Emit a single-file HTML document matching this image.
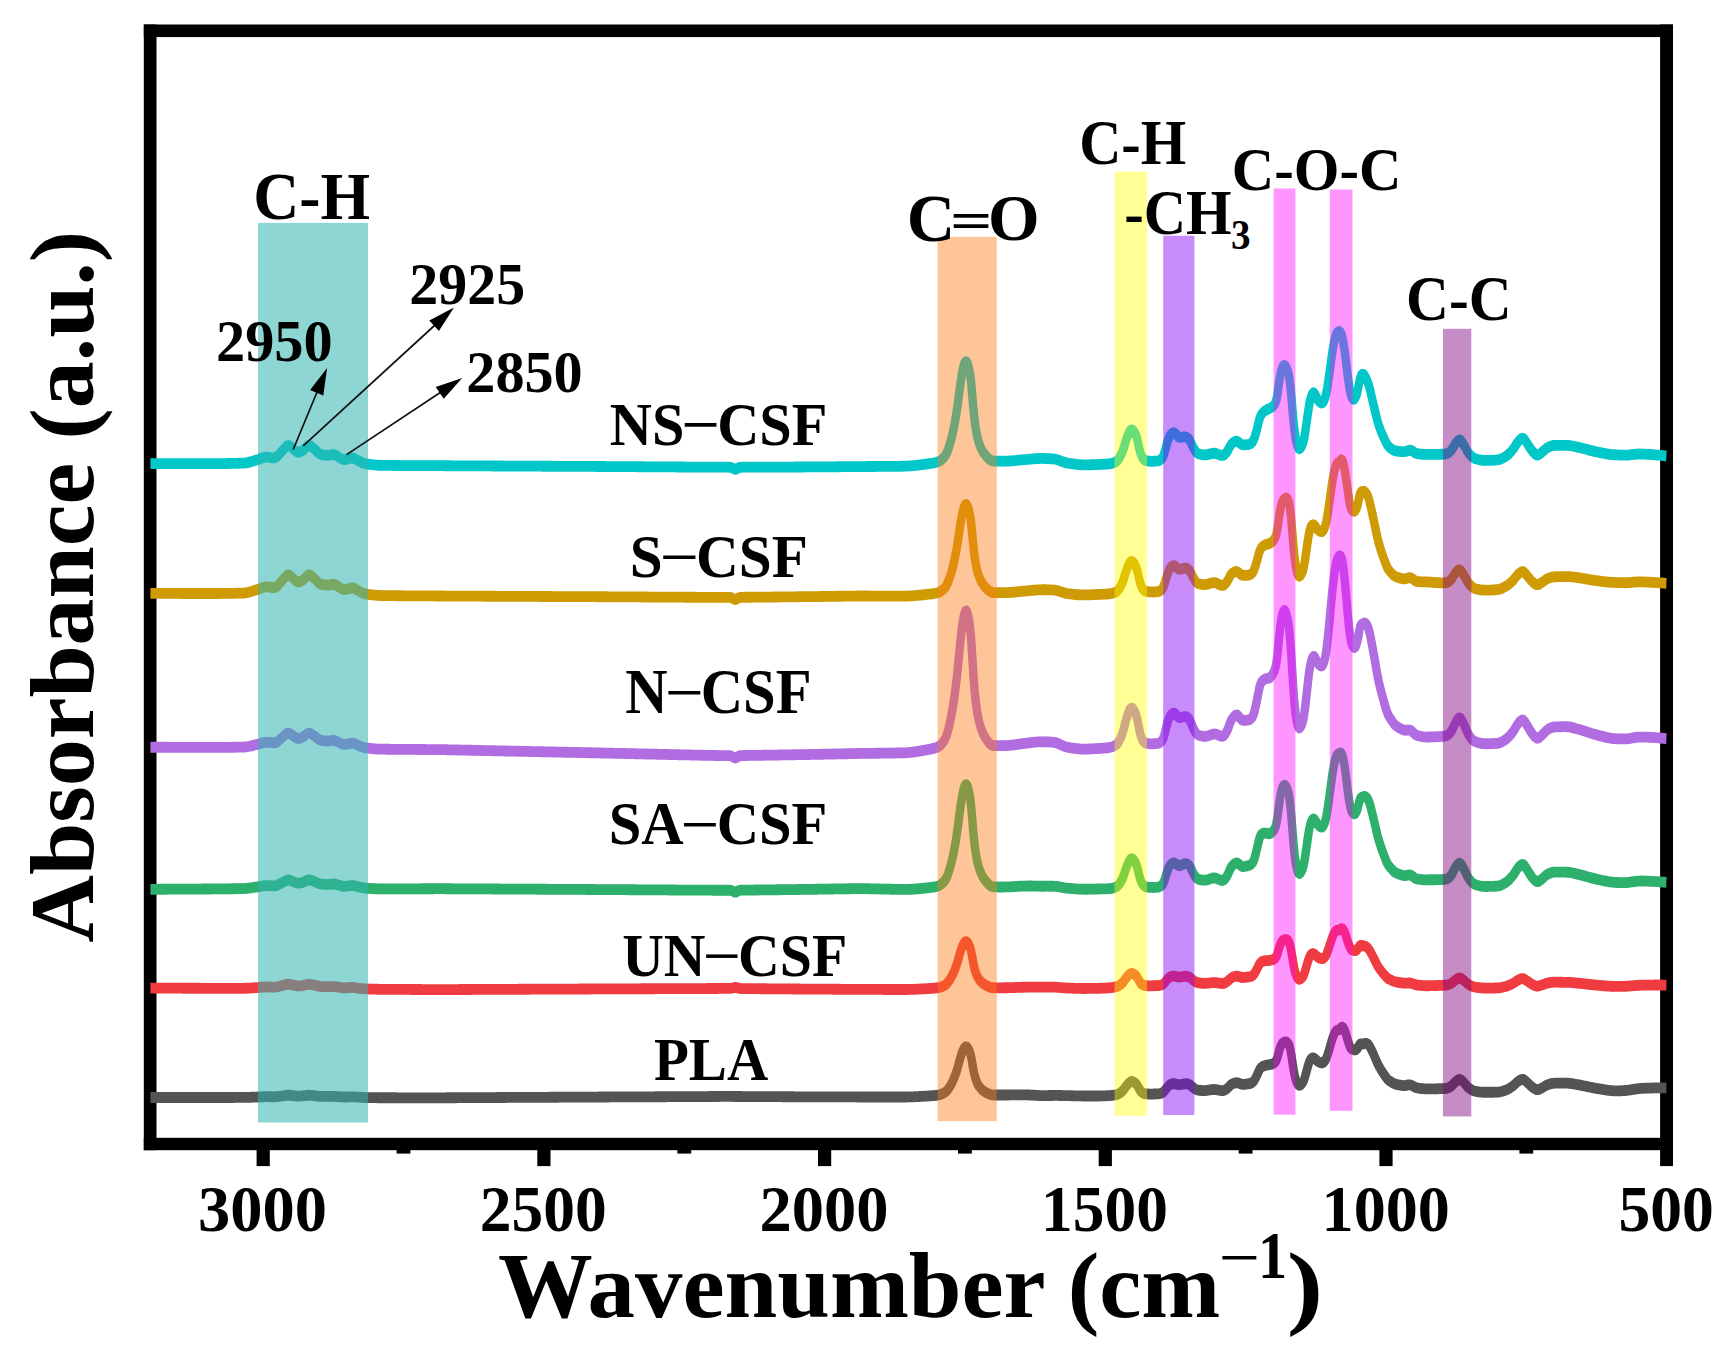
<!DOCTYPE html>
<html><head><meta charset="utf-8"><title>FTIR spectra</title>
<style>
html,body{margin:0;padding:0;background:#fff;}
svg{display:block;}
text{font-family:"Liberation Serif","Times New Roman",serif;font-weight:bold;fill:#000;}
</style></head><body>
<svg width="1735" height="1353" viewBox="0 0 1735 1353">
<rect width="1735" height="1353" fill="#fff"/>
<g id="frame"><rect x="143.8" y="24.5" width="1529.2" height="12.6" fill="#000"/><rect x="143.8" y="1137.8" width="1529.2" height="12.4" fill="#000"/><rect x="143.8" y="24.5" width="12.7" height="1125.7" fill="#000"/><rect x="1660.1" y="24.5" width="12.9" height="1141.6" fill="#000"/><rect x="256.6" y="1144" width="13.2" height="22.1" fill="#000"/><rect x="537.3" y="1144" width="13.2" height="22.1" fill="#000"/><rect x="818.0" y="1144" width="13.2" height="22.1" fill="#000"/><rect x="1098.7" y="1144" width="13.2" height="22.1" fill="#000"/><rect x="1379.4" y="1144" width="13.2" height="22.1" fill="#000"/><rect x="396.6" y="1144" width="13.8" height="9.6" fill="#000"/><rect x="677.4" y="1144" width="13.8" height="9.6" fill="#000"/><rect x="958.0" y="1144" width="13.8" height="9.6" fill="#000"/><rect x="1238.7" y="1144" width="13.8" height="9.6" fill="#000"/><rect x="1519.4" y="1144" width="13.8" height="9.6" fill="#000"/></g>
<g id="curves" transform="scale(1,1.28)"><path d="M150.4 362.21L151.4 362.21L152.4 362.21L153.4 362.21L154.4 362.21L155.4 362.21L156.4 362.21L157.4 362.21L158.4 362.21L159.4 362.21L160.4 362.21L161.4 362.21L162.4 362.21L163.4 362.21L164.4 362.21L165.4 362.21L166.4 362.21L167.4 362.21L168.4 362.21L169.4 362.21L170.4 362.21L171.4 362.21L172.4 362.21L173.4 362.21L174.4 362.21L175.4 362.21L176.4 362.21L177.4 362.21L178.4 362.21L179.4 362.21L180.4 362.21L181.4 362.21L182.4 362.21L183.4 362.21L184.4 362.21L185.4 362.21L186.4 362.21L187.4 362.21L188.4 362.21L189.4 362.21L190.4 362.21L191.4 362.21L192.4 362.21L193.4 362.21L194.4 362.21L195.4 362.21L196.4 362.21L197.4 362.21L198.4 362.21L199.4 362.21L200.4 362.21L201.4 362.21L202.4 362.21L203.4 362.21L204.4 362.21L205.4 362.21L206.4 362.21L207.4 362.21L208.4 362.21L209.4 362.21L210.4 362.21L211.4 362.21L212.4 362.21L213.4 362.21L214.4 362.20L215.4 362.20L216.4 362.20L217.4 362.19L218.4 362.19L219.4 362.18L220.4 362.17L221.4 362.17L222.4 362.16L223.4 362.15L224.4 362.14L225.4 362.13L226.4 362.12L227.4 362.11L228.4 362.10L229.4 362.08L230.4 362.07L231.4 362.05L232.4 362.04L233.4 362.02L234.4 362.01L235.4 361.99L236.4 361.97L237.4 361.95L238.4 361.93L239.4 361.91L240.4 361.89L241.4 361.86L242.4 361.84L243.4 361.81L244.4 361.77L245.4 361.69L246.4 361.58L247.4 361.43L248.4 361.26L249.4 361.06L250.4 360.84L251.4 360.60L252.4 360.36L253.4 360.11L254.4 359.86L255.4 359.61L256.4 359.37L257.4 359.14L258.4 358.89L259.4 358.62L260.4 358.32L261.4 358.02L262.4 357.73L263.4 357.47L264.4 357.27L265.4 357.15L266.4 357.10L267.4 357.13L268.4 357.20L269.4 357.30L270.4 357.42L271.4 357.53L272.4 357.63L273.4 357.71L274.4 357.70L275.4 357.51L276.4 357.09L277.4 356.43L278.4 355.62L279.4 354.74L280.4 353.88L281.4 353.05L282.4 352.20L283.4 351.29L284.4 350.34L285.4 349.44L286.4 348.69L287.4 348.19L288.4 348.03L289.4 348.24L290.4 348.75L291.4 349.45L292.4 350.19L293.4 350.89L294.4 351.56L295.4 352.20L296.4 352.79L297.4 353.19L298.4 353.34L299.4 353.24L300.4 352.97L301.4 352.58L302.4 352.14L303.4 351.62L304.4 350.94L305.4 350.11L306.4 349.23L307.4 348.50L308.4 348.09L309.4 348.06L310.4 348.36L311.4 348.87L312.4 349.50L313.4 350.18L314.4 350.85L315.4 351.55L316.4 352.31L317.4 353.12L318.4 353.88L319.4 354.50L320.4 354.91L321.4 355.15L322.4 355.30L323.4 355.42L324.4 355.52L325.4 355.60L326.4 355.67L327.4 355.70L328.4 355.70L329.4 355.64L330.4 355.50L331.4 355.33L332.4 355.18L333.4 355.11L334.4 355.21L335.4 355.48L336.4 355.91L337.4 356.39L338.4 356.87L339.4 357.34L340.4 357.82L341.4 358.30L342.4 358.71L343.4 358.97L344.4 359.05L345.4 358.99L346.4 358.84L347.4 358.64L348.4 358.42L349.4 358.20L350.4 358.00L351.4 357.86L352.4 357.81L353.4 357.91L354.4 358.18L355.4 358.61L356.4 359.10L357.4 359.56L358.4 359.99L359.4 360.40L360.4 360.81L361.4 361.21L362.4 361.58L363.4 361.89L364.4 362.12L365.4 362.29L366.4 362.43L367.4 362.55L368.4 362.67L369.4 362.79L370.4 362.89L371.4 362.99L372.4 363.08L373.4 363.16L374.4 363.24L375.4 363.31L376.4 363.37L377.4 363.42L378.4 363.47L379.4 363.50L380.4 363.53L381.4 363.55L382.4 363.57L383.4 363.58L384.4 363.59L385.4 363.60L386.4 363.60L387.4 363.61L388.4 363.62L389.4 363.63L390.4 363.64L391.4 363.64L392.4 363.65L393.4 363.66L394.4 363.67L395.4 363.67L396.4 363.68L397.4 363.68L398.4 363.69L399.4 363.69L400.4 363.70L401.4 363.70L402.4 363.71L403.4 363.71L404.4 363.72L405.4 363.72L406.4 363.73L407.4 363.73L408.4 363.73L409.4 363.74L410.4 363.74L411.4 363.74L412.4 363.75L413.4 363.75L414.4 363.75L415.4 363.76L416.4 363.76L417.4 363.76L418.4 363.76L419.4 363.77L420.4 363.77L421.4 363.77L422.4 363.78L423.4 363.78L424.4 363.78L425.4 363.78L426.4 363.79L427.4 363.79L428.4 363.79L429.4 363.80L430.4 363.80L431.4 363.80L432.4 363.80L433.4 363.81L434.4 363.81L435.4 363.81L436.4 363.82L437.4 363.82L438.4 363.83L439.4 363.83L440.4 363.83L441.4 363.84L442.4 363.84L443.4 363.85L444.4 363.85L445.4 363.86L446.4 363.86L447.4 363.86L448.4 363.87L449.4 363.87L450.4 363.88L451.4 363.88L452.4 363.89L453.4 363.89L454.4 363.89L455.4 363.90L456.4 363.90L457.4 363.91L458.4 363.91L459.4 363.91L460.4 363.92L461.4 363.92L462.4 363.93L463.4 363.93L464.4 363.93L465.4 363.94L466.4 363.94L467.4 363.95L468.4 363.95L469.4 363.95L470.4 363.96L471.4 363.96L472.4 363.97L473.4 363.97L474.4 363.98L475.4 363.98L476.4 363.98L477.4 363.99L478.4 363.99L479.4 363.99L480.4 364.00L481.4 364.00L482.4 364.01L483.4 364.01L484.4 364.01L485.4 364.02L486.4 364.02L487.4 364.03L488.4 364.03L489.4 364.03L490.4 364.04L491.4 364.04L492.4 364.05L493.4 364.05L494.4 364.05L495.4 364.06L496.4 364.06L497.4 364.07L498.4 364.07L499.4 364.07L500.4 364.08L501.4 364.08L502.4 364.08L503.4 364.09L504.4 364.09L505.4 364.10L506.4 364.10L507.4 364.10L508.4 364.11L509.4 364.11L510.4 364.11L511.4 364.12L512.4 364.12L513.4 364.13L514.4 364.13L515.4 364.13L516.4 364.14L517.4 364.14L518.4 364.15L519.4 364.15L520.4 364.15L521.4 364.16L522.4 364.16L523.4 364.16L524.4 364.17L525.4 364.17L526.4 364.18L527.4 364.18L528.4 364.18L529.4 364.19L530.4 364.19L531.4 364.19L532.4 364.20L533.4 364.20L534.4 364.21L535.4 364.21L536.4 364.21L537.4 364.22L538.4 364.22L539.4 364.22L540.4 364.23L541.4 364.23L542.4 364.24L543.4 364.24L544.4 364.24L545.4 364.25L546.4 364.25L547.4 364.25L548.4 364.26L549.4 364.26L550.4 364.26L551.4 364.27L552.4 364.27L553.4 364.28L554.4 364.28L555.4 364.28L556.4 364.29L557.4 364.29L558.4 364.29L559.4 364.30L560.4 364.30L561.4 364.31L562.4 364.31L563.4 364.31L564.4 364.32L565.4 364.32L566.4 364.32L567.4 364.33L568.4 364.33L569.4 364.34L570.4 364.34L571.4 364.34L572.4 364.35L573.4 364.35L574.4 364.36L575.4 364.36L576.4 364.36L577.4 364.37L578.4 364.37L579.4 364.37L580.4 364.38L581.4 364.38L582.4 364.39L583.4 364.39L584.4 364.39L585.4 364.40L586.4 364.40L587.4 364.40L588.4 364.41L589.4 364.41L590.4 364.42L591.4 364.42L592.4 364.42L593.4 364.43L594.4 364.43L595.4 364.44L596.4 364.44L597.4 364.44L598.4 364.45L599.4 364.45L600.4 364.45L601.4 364.46L602.4 364.46L603.4 364.47L604.4 364.47L605.4 364.47L606.4 364.48L607.4 364.48L608.4 364.49L609.4 364.49L610.4 364.50L611.4 364.50L612.4 364.51L613.4 364.51L614.4 364.51L615.4 364.52L616.4 364.52L617.4 364.53L618.4 364.53L619.4 364.54L620.4 364.54L621.4 364.55L622.4 364.55L623.4 364.56L624.4 364.56L625.4 364.57L626.4 364.57L627.4 364.58L628.4 364.58L629.4 364.59L630.4 364.59L631.4 364.60L632.4 364.60L633.4 364.61L634.4 364.61L635.4 364.62L636.4 364.62L637.4 364.63L638.4 364.63L639.4 364.64L640.4 364.64L641.4 364.65L642.4 364.65L643.4 364.66L644.4 364.66L645.4 364.67L646.4 364.67L647.4 364.68L648.4 364.68L649.4 364.69L650.4 364.70L651.4 364.70L652.4 364.71L653.4 364.71L654.4 364.72L655.4 364.72L656.4 364.73L657.4 364.73L658.4 364.74L659.4 364.74L660.4 364.75L661.4 364.75L662.4 364.76L663.4 364.76L664.4 364.77L665.4 364.77L666.4 364.78L667.4 364.78L668.4 364.79L669.4 364.79L670.4 364.80L671.4 364.80L672.4 364.81L673.4 364.81L674.4 364.82L675.4 364.82L676.4 364.83L677.4 364.83L678.4 364.83L679.4 364.84L680.4 364.84L681.4 364.85L682.4 364.85L683.4 364.86L684.4 364.86L685.4 364.87L686.4 364.87L687.4 364.87L688.4 364.88L689.4 364.88L690.4 364.89L691.4 364.89L692.4 364.89L693.4 364.90L694.4 364.90L695.4 364.91L696.4 364.91L697.4 364.91L698.4 364.92L699.4 364.92L700.4 364.92L701.4 364.93L702.4 364.93L703.4 364.93L704.4 364.94L705.4 364.94L706.4 364.94L707.4 364.95L708.4 364.95L709.4 364.95L710.4 364.96L711.4 364.96L712.4 364.96L713.4 364.96L714.4 364.97L715.4 364.97L716.4 364.97L717.4 364.97L718.4 364.98L719.4 364.98L720.4 364.98L721.4 364.98L722.4 364.98L723.4 364.99L724.4 364.99L725.4 364.99L726.4 364.99L727.4 364.99L728.4 365.00L729.4 365.02L730.4 365.08L731.4 365.25L732.4 365.60L733.4 366.09L734.4 366.55L735.4 366.72L736.4 366.48L737.4 365.99L738.4 365.52L739.4 365.21L740.4 365.07L741.4 365.02L742.4 365.00L743.4 365.00L744.4 365.00L745.4 365.00L746.4 365.00L747.4 365.00L748.4 365.00L749.4 364.99L750.4 364.99L751.4 364.99L752.4 364.99L753.4 364.99L754.4 364.99L755.4 364.98L756.4 364.98L757.4 364.98L758.4 364.98L759.4 364.98L760.4 364.97L761.4 364.97L762.4 364.97L763.4 364.97L764.4 364.96L765.4 364.96L766.4 364.96L767.4 364.96L768.4 364.95L769.4 364.95L770.4 364.95L771.4 364.94L772.4 364.94L773.4 364.94L774.4 364.93L775.4 364.93L776.4 364.93L777.4 364.92L778.4 364.92L779.4 364.92L780.4 364.91L781.4 364.91L782.4 364.91L783.4 364.90L784.4 364.90L785.4 364.90L786.4 364.89L787.4 364.89L788.4 364.89L789.4 364.88L790.4 364.88L791.4 364.87L792.4 364.87L793.4 364.87L794.4 364.86L795.4 364.86L796.4 364.86L797.4 364.85L798.4 364.85L799.4 364.85L800.4 364.84L801.4 364.84L802.4 364.83L803.4 364.83L804.4 364.83L805.4 364.82L806.4 364.82L807.4 364.81L808.4 364.81L809.4 364.81L810.4 364.80L811.4 364.80L812.4 364.79L813.4 364.79L814.4 364.78L815.4 364.78L816.4 364.77L817.4 364.77L818.4 364.76L819.4 364.75L820.4 364.75L821.4 364.74L822.4 364.74L823.4 364.73L824.4 364.73L825.4 364.72L826.4 364.72L827.4 364.71L828.4 364.70L829.4 364.70L830.4 364.69L831.4 364.69L832.4 364.68L833.4 364.67L834.4 364.67L835.4 364.66L836.4 364.65L837.4 364.65L838.4 364.64L839.4 364.64L840.4 364.63L841.4 364.62L842.4 364.62L843.4 364.61L844.4 364.60L845.4 364.60L846.4 364.59L847.4 364.59L848.4 364.58L849.4 364.57L850.4 364.57L851.4 364.56L852.4 364.55L853.4 364.55L854.4 364.54L855.4 364.54L856.4 364.53L857.4 364.52L858.4 364.52L859.4 364.51L860.4 364.51L861.4 364.50L862.4 364.49L863.4 364.49L864.4 364.48L865.4 364.48L866.4 364.47L867.4 364.47L868.4 364.47L869.4 364.46L870.4 364.46L871.4 364.45L872.4 364.45L873.4 364.44L874.4 364.44L875.4 364.44L876.4 364.43L877.4 364.43L878.4 364.42L879.4 364.42L880.4 364.41L881.4 364.41L882.4 364.40L883.4 364.40L884.4 364.39L885.4 364.39L886.4 364.38L887.4 364.38L888.4 364.37L889.4 364.37L890.4 364.36L891.4 364.35L892.4 364.34L893.4 364.34L894.4 364.33L895.4 364.32L896.4 364.31L897.4 364.30L898.4 364.29L899.4 364.28L900.4 364.27L901.4 364.26L902.4 364.25L903.4 364.23L904.4 364.22L905.4 364.19L906.4 364.16L907.4 364.12L908.4 364.08L909.4 364.03L910.4 363.97L911.4 363.91L912.4 363.84L913.4 363.77L914.4 363.69L915.4 363.61L916.4 363.52L917.4 363.43L918.4 363.34L919.4 363.25L920.4 363.15L921.4 363.05L922.4 362.94L923.4 362.84L924.4 362.73L925.4 362.62L926.4 362.52L927.4 362.41L928.4 362.30L929.4 362.19L930.4 362.07L931.4 361.96L932.4 361.84L933.4 361.70L934.4 361.55L935.4 361.37L936.4 361.18L937.4 360.95L938.4 360.66L939.4 360.29L940.4 359.81L941.4 359.24L942.4 358.56L943.4 357.79L944.4 356.91L945.4 355.84L946.4 354.46L947.4 352.66L948.4 350.50L949.4 348.06L950.4 345.43L951.4 342.57L952.4 339.40L953.4 335.85L954.4 331.94L955.4 327.71L956.4 323.03L957.4 317.74L958.4 311.86L959.4 305.77L960.4 300.00L961.4 294.75L962.4 290.23L963.4 286.53L964.4 283.98L965.4 282.63L966.4 282.52L967.4 283.64L968.4 285.90L969.4 289.28L970.4 293.94L971.4 301.01L972.4 310.16L973.4 319.51L974.4 327.24L975.4 333.00L976.4 337.76L977.4 341.58L978.4 344.57L979.4 346.96L980.4 349.00L981.4 350.77L982.4 352.28L983.4 353.56L984.4 354.65L985.4 355.62L986.4 356.52L987.4 357.37L988.4 358.16L989.4 358.84L990.4 359.41L991.4 359.82L992.4 360.06L993.4 360.17L994.4 360.19L995.4 360.19L996.4 360.19L997.4 360.19L998.4 360.19L999.4 360.19L1000.4 360.19L1001.4 360.19L1002.4 360.19L1003.4 360.19L1004.4 360.19L1005.4 360.19L1006.4 360.19L1007.4 360.18L1008.4 360.17L1009.4 360.14L1010.4 360.10L1011.4 360.06L1012.4 360.00L1013.4 359.93L1014.4 359.86L1015.4 359.79L1016.4 359.71L1017.4 359.63L1018.4 359.54L1019.4 359.46L1020.4 359.38L1021.4 359.30L1022.4 359.23L1023.4 359.16L1024.4 359.10L1025.4 359.03L1026.4 358.97L1027.4 358.90L1028.4 358.83L1029.4 358.76L1030.4 358.68L1031.4 358.61L1032.4 358.54L1033.4 358.47L1034.4 358.41L1035.4 358.35L1036.4 358.30L1037.4 358.26L1038.4 358.22L1039.4 358.19L1040.4 358.17L1041.4 358.16L1042.4 358.16L1043.4 358.17L1044.4 358.19L1045.4 358.21L1046.4 358.24L1047.4 358.27L1048.4 358.31L1049.4 358.35L1050.4 358.39L1051.4 358.44L1052.4 358.49L1053.4 358.56L1054.4 358.64L1055.4 358.78L1056.4 358.96L1057.4 359.19L1058.4 359.44L1059.4 359.73L1060.4 360.03L1061.4 360.33L1062.4 360.63L1063.4 360.92L1064.4 361.19L1065.4 361.43L1066.4 361.63L1067.4 361.78L1068.4 361.91L1069.4 362.03L1070.4 362.15L1071.4 362.26L1072.4 362.37L1073.4 362.48L1074.4 362.58L1075.4 362.67L1076.4 362.76L1077.4 362.84L1078.4 362.92L1079.4 362.98L1080.4 363.04L1081.4 363.08L1082.4 363.12L1083.4 363.14L1084.4 363.15L1085.4 363.15L1086.4 363.15L1087.4 363.14L1088.4 363.13L1089.4 363.11L1090.4 363.09L1091.4 363.07L1092.4 363.05L1093.4 363.02L1094.4 362.99L1095.4 362.96L1096.4 362.93L1097.4 362.90L1098.4 362.87L1099.4 362.84L1100.4 362.81L1101.4 362.78L1102.4 362.74L1103.4 362.70L1104.4 362.66L1105.4 362.62L1106.4 362.56L1107.4 362.50L1108.4 362.43L1109.4 362.33L1110.4 362.21L1111.4 362.04L1112.4 361.84L1113.4 361.59L1114.4 361.30L1115.4 360.95L1116.4 360.47L1117.4 359.78L1118.4 358.83L1119.4 357.66L1120.4 356.33L1121.4 354.83L1122.4 353.02L1123.4 350.81L1124.4 348.25L1125.4 345.61L1126.4 343.15L1127.4 340.89L1128.4 338.92L1129.4 337.35L1130.4 336.28L1131.4 335.82L1132.4 335.93L1133.4 336.56L1134.4 337.63L1135.4 339.08L1136.4 341.00L1137.4 343.69L1138.4 347.12L1139.4 350.78L1140.4 353.77L1141.4 355.89L1142.4 357.40L1143.4 358.59L1144.4 359.35L1145.4 359.76L1146.4 359.95L1147.4 360.09L1148.4 360.21L1149.4 360.29L1150.4 360.35L1151.4 360.38L1152.4 360.38L1153.4 360.36L1154.4 360.33L1155.4 360.28L1156.4 360.21L1157.4 360.12L1158.4 360.00L1159.4 359.76L1160.4 359.32L1161.4 358.62L1162.4 357.69L1163.4 356.20L1164.4 353.94L1165.4 351.07L1166.4 348.15L1167.4 345.47L1168.4 343.12L1169.4 341.23L1170.4 339.89L1171.4 339.01L1172.4 338.38L1173.4 338.03L1174.4 338.11L1175.4 338.66L1176.4 339.58L1177.4 340.58L1178.4 341.30L1179.4 341.64L1180.4 341.67L1181.4 341.57L1182.4 341.44L1183.4 341.33L1184.4 341.25L1185.4 341.31L1186.4 341.56L1187.4 342.03L1188.4 342.66L1189.4 343.56L1190.4 344.85L1191.4 346.50L1192.4 348.24L1193.4 349.81L1194.4 351.18L1195.4 352.39L1196.4 353.40L1197.4 354.07L1198.4 354.47L1199.4 354.71L1200.4 354.90L1201.4 355.07L1202.4 355.20L1203.4 355.30L1204.4 355.35L1205.4 355.37L1206.4 355.32L1207.4 355.20L1208.4 355.02L1209.4 354.80L1210.4 354.58L1211.4 354.37L1212.4 354.20L1213.4 354.10L1214.4 354.09L1215.4 354.19L1216.4 354.39L1217.4 354.66L1218.4 354.97L1219.4 355.28L1220.4 355.56L1221.4 355.77L1222.4 355.85L1223.4 355.69L1224.4 355.24L1225.4 354.50L1226.4 353.60L1227.4 352.49L1228.4 351.13L1229.4 349.57L1230.4 348.13L1231.4 347.02L1232.4 346.24L1233.4 345.64L1234.4 345.15L1235.4 344.81L1236.4 344.69L1237.4 344.84L1238.4 345.28L1239.4 345.92L1240.4 346.59L1241.4 347.13L1242.4 347.44L1243.4 347.54L1244.4 347.53L1245.4 347.49L1246.4 347.44L1247.4 347.38L1248.4 347.29L1249.4 347.08L1250.4 346.71L1251.4 346.12L1252.4 345.33L1253.4 344.08L1254.4 342.20L1255.4 339.72L1256.4 336.89L1257.4 333.79L1258.4 330.54L1259.4 327.54L1260.4 325.28L1261.4 323.78L1262.4 322.76L1263.4 321.96L1264.4 321.30L1265.4 320.75L1266.4 320.28L1267.4 319.86L1268.4 319.49L1269.4 319.14L1270.4 318.79L1271.4 318.37L1272.4 317.83L1273.4 317.12L1274.4 316.15L1275.4 314.76L1276.4 312.22L1277.4 308.02L1278.4 302.67L1279.4 297.14L1280.4 292.49L1281.4 289.06L1282.4 286.86L1283.4 285.78L1284.4 285.48L1285.4 285.99L1286.4 287.15L1287.4 289.03L1288.4 291.74L1289.4 295.74L1290.4 301.81L1291.4 309.83L1292.4 319.13L1293.4 328.26L1294.4 335.89L1295.4 341.65L1296.4 345.57L1297.4 348.40L1298.4 350.09L1299.4 350.58L1300.4 350.10L1301.4 349.00L1302.4 347.47L1303.4 345.07L1304.4 341.42L1305.4 336.57L1306.4 331.21L1307.4 325.66L1308.4 320.23L1309.4 315.49L1310.4 311.87L1311.4 309.34L1312.4 307.59L1313.4 306.82L1314.4 307.19L1315.4 308.49L1316.4 310.17L1317.4 311.69L1318.4 312.86L1319.4 313.72L1320.4 314.42L1321.4 314.87L1322.4 314.79L1323.4 313.96L1324.4 312.37L1325.4 310.06L1326.4 306.77L1327.4 302.42L1328.4 297.31L1329.4 291.85L1330.4 286.18L1331.4 280.39L1332.4 274.96L1333.4 270.26L1334.4 266.32L1335.4 263.19L1336.4 260.98L1337.4 259.64L1338.4 259.02L1339.4 258.97L1340.4 259.52L1341.4 260.97L1342.4 263.72L1343.4 267.83L1344.4 272.96L1345.4 278.85L1346.4 285.27L1347.4 291.65L1348.4 297.53L1349.4 302.66L1350.4 306.78L1351.4 309.62L1352.4 311.26L1353.4 312.00L1354.4 311.81L1355.4 310.63L1356.4 308.66L1357.4 305.94L1358.4 302.23L1359.4 298.21L1360.4 294.90L1361.4 293.01L1362.4 292.31L1363.4 292.40L1364.4 293.20L1365.4 294.45L1366.4 295.97L1367.4 297.78L1368.4 300.00L1369.4 302.68L1370.4 305.78L1371.4 309.12L1372.4 312.47L1373.4 315.78L1374.4 319.06L1375.4 322.36L1376.4 325.59L1377.4 328.58L1378.4 331.26L1379.4 333.64L1380.4 335.78L1381.4 337.76L1382.4 339.60L1383.4 341.35L1384.4 343.04L1385.4 344.69L1386.4 346.22L1387.4 347.54L1388.4 348.59L1389.4 349.41L1390.4 350.09L1391.4 350.69L1392.4 351.21L1393.4 351.65L1394.4 351.98L1395.4 352.21L1396.4 352.37L1397.4 352.49L1398.4 352.60L1399.4 352.70L1400.4 352.78L1401.4 352.85L1402.4 352.89L1403.4 352.92L1404.4 352.89L1405.4 352.75L1406.4 352.51L1407.4 352.21L1408.4 351.92L1409.4 351.71L1410.4 351.69L1411.4 351.90L1412.4 352.34L1413.4 352.91L1414.4 353.49L1415.4 353.95L1416.4 354.25L1417.4 354.43L1418.4 354.55L1419.4 354.66L1420.4 354.75L1421.4 354.83L1422.4 354.89L1423.4 354.93L1424.4 354.95L1425.4 354.96L1426.4 354.96L1427.4 354.96L1428.4 354.96L1429.4 354.96L1430.4 354.96L1431.4 354.96L1432.4 354.96L1433.4 354.96L1434.4 354.96L1435.4 354.96L1436.4 354.96L1437.4 354.95L1438.4 354.94L1439.4 354.92L1440.4 354.90L1441.4 354.87L1442.4 354.84L1443.4 354.80L1444.4 354.76L1445.4 354.69L1446.4 354.54L1447.4 354.25L1448.4 353.80L1449.4 353.23L1450.4 352.56L1451.4 351.69L1452.4 350.56L1453.4 349.21L1454.4 347.89L1455.4 346.70L1456.4 345.65L1457.4 344.70L1458.4 343.99L1459.4 343.69L1460.4 343.93L1461.4 344.68L1462.4 345.77L1463.4 346.98L1464.4 348.29L1465.4 349.71L1466.4 351.22L1467.4 352.60L1468.4 353.76L1469.4 354.72L1470.4 355.59L1471.4 356.38L1472.4 357.08L1473.4 357.65L1474.4 358.08L1475.4 358.39L1476.4 358.62L1477.4 358.82L1478.4 359.01L1479.4 359.17L1480.4 359.32L1481.4 359.44L1482.4 359.54L1483.4 359.62L1484.4 359.66L1485.4 359.68L1486.4 359.69L1487.4 359.68L1488.4 359.66L1489.4 359.64L1490.4 359.62L1491.4 359.59L1492.4 359.55L1493.4 359.51L1494.4 359.46L1495.4 359.41L1496.4 359.36L1497.4 359.28L1498.4 359.17L1499.4 358.99L1500.4 358.74L1501.4 358.42L1502.4 358.04L1503.4 357.63L1504.4 357.18L1505.4 356.71L1506.4 356.20L1507.4 355.63L1508.4 354.97L1509.4 354.21L1510.4 353.39L1511.4 352.52L1512.4 351.60L1513.4 350.59L1514.4 349.46L1515.4 348.22L1516.4 346.95L1517.4 345.80L1518.4 344.81L1519.4 343.94L1520.4 343.17L1521.4 342.57L1522.4 342.32L1523.4 342.54L1524.4 343.26L1525.4 344.33L1526.4 345.49L1527.4 346.68L1528.4 347.88L1529.4 349.13L1530.4 350.36L1531.4 351.47L1532.4 352.45L1533.4 353.34L1534.4 354.17L1535.4 354.87L1536.4 355.35L1537.4 355.51L1538.4 355.36L1539.4 354.93L1540.4 354.34L1541.4 353.68L1542.4 353.02L1543.4 352.35L1544.4 351.64L1545.4 350.92L1546.4 350.27L1547.4 349.74L1548.4 349.33L1549.4 348.99L1550.4 348.68L1551.4 348.41L1552.4 348.19L1553.4 348.04L1554.4 347.96L1555.4 347.94L1556.4 347.94L1557.4 347.94L1558.4 347.94L1559.4 347.94L1560.4 347.94L1561.4 347.94L1562.4 347.94L1563.4 347.94L1564.4 347.94L1565.4 347.94L1566.4 347.94L1567.4 347.96L1568.4 348.00L1569.4 348.08L1570.4 348.18L1571.4 348.31L1572.4 348.45L1573.4 348.61L1574.4 348.79L1575.4 348.96L1576.4 349.14L1577.4 349.32L1578.4 349.48L1579.4 349.65L1580.4 349.82L1581.4 350.00L1582.4 350.19L1583.4 350.39L1584.4 350.59L1585.4 350.80L1586.4 351.01L1587.4 351.23L1588.4 351.44L1589.4 351.65L1590.4 351.86L1591.4 352.07L1592.4 352.26L1593.4 352.46L1594.4 352.64L1595.4 352.81L1596.4 352.98L1597.4 353.14L1598.4 353.30L1599.4 353.46L1600.4 353.63L1601.4 353.79L1602.4 353.95L1603.4 354.10L1604.4 354.26L1605.4 354.40L1606.4 354.54L1607.4 354.67L1608.4 354.79L1609.4 354.90L1610.4 355.00L1611.4 355.09L1612.4 355.17L1613.4 355.23L1614.4 355.28L1615.4 355.33L1616.4 355.38L1617.4 355.43L1618.4 355.47L1619.4 355.51L1620.4 355.54L1621.4 355.57L1622.4 355.60L1623.4 355.62L1624.4 355.63L1625.4 355.63L1626.4 355.62L1627.4 355.58L1628.4 355.53L1629.4 355.45L1630.4 355.37L1631.4 355.27L1632.4 355.17L1633.4 355.07L1634.4 354.97L1635.4 354.88L1636.4 354.81L1637.4 354.75L1638.4 354.71L1639.4 354.70L1640.4 354.70L1641.4 354.71L1642.4 354.73L1643.4 354.76L1644.4 354.80L1645.4 354.83L1646.4 354.88L1647.4 354.93L1648.4 354.98L1649.4 355.03L1650.4 355.08L1651.4 355.14L1652.4 355.19L1653.4 355.24L1654.4 355.30L1655.4 355.36L1656.4 355.42L1657.4 355.49L1658.4 355.56L1659.4 355.64L1660.4 355.72L1661.4 355.80L1662.4 355.89L1663.4 355.97L1664.4 356.06L1665.4 356.16L1666.4 356.22" fill="none" stroke="#02c7c8" stroke-width="8.44" stroke-linejoin="round" stroke-linecap="butt"/><path d="M150.4 463.62L151.4 463.62L152.4 463.62L153.4 463.62L154.4 463.62L155.4 463.63L156.4 463.63L157.4 463.63L158.4 463.63L159.4 463.63L160.4 463.63L161.4 463.63L162.4 463.63L163.4 463.63L164.4 463.64L165.4 463.64L166.4 463.64L167.4 463.64L168.4 463.64L169.4 463.64L170.4 463.64L171.4 463.64L172.4 463.64L173.4 463.65L174.4 463.65L175.4 463.65L176.4 463.65L177.4 463.65L178.4 463.65L179.4 463.65L180.4 463.65L181.4 463.66L182.4 463.66L183.4 463.66L184.4 463.66L185.4 463.66L186.4 463.66L187.4 463.66L188.4 463.66L189.4 463.66L190.4 463.67L191.4 463.67L192.4 463.67L193.4 463.67L194.4 463.67L195.4 463.67L196.4 463.67L197.4 463.67L198.4 463.67L199.4 463.68L200.4 463.68L201.4 463.68L202.4 463.68L203.4 463.68L204.4 463.68L205.4 463.68L206.4 463.68L207.4 463.69L208.4 463.69L209.4 463.69L210.4 463.69L211.4 463.69L212.4 463.69L213.4 463.69L214.4 463.69L215.4 463.68L216.4 463.68L217.4 463.68L218.4 463.67L219.4 463.67L220.4 463.66L221.4 463.65L222.4 463.65L223.4 463.64L224.4 463.63L225.4 463.62L226.4 463.61L227.4 463.60L228.4 463.59L229.4 463.58L230.4 463.56L231.4 463.55L232.4 463.54L233.4 463.52L234.4 463.50L235.4 463.49L236.4 463.47L237.4 463.45L238.4 463.43L239.4 463.41L240.4 463.39L241.4 463.36L242.4 463.34L243.4 463.31L244.4 463.27L245.4 463.19L246.4 463.08L247.4 462.93L248.4 462.75L249.4 462.54L250.4 462.32L251.4 462.08L252.4 461.82L253.4 461.57L254.4 461.31L255.4 461.06L256.4 460.81L257.4 460.57L258.4 460.32L259.4 460.04L260.4 459.73L261.4 459.41L262.4 459.11L263.4 458.85L264.4 458.65L265.4 458.52L266.4 458.48L267.4 458.50L268.4 458.58L269.4 458.69L270.4 458.81L271.4 458.93L272.4 459.03L273.4 459.11L274.4 459.10L275.4 458.91L276.4 458.47L277.4 457.79L278.4 456.96L279.4 456.05L280.4 455.16L281.4 454.31L282.4 453.43L283.4 452.49L284.4 451.51L285.4 450.58L286.4 449.81L287.4 449.29L288.4 449.13L289.4 449.34L290.4 449.87L291.4 450.60L292.4 451.36L293.4 452.09L294.4 452.78L295.4 453.45L296.4 454.06L297.4 454.47L298.4 454.62L299.4 454.52L300.4 454.24L301.4 453.84L302.4 453.39L303.4 452.85L304.4 452.16L305.4 451.30L306.4 450.39L307.4 449.63L308.4 449.21L309.4 449.18L310.4 449.49L311.4 450.02L312.4 450.67L313.4 451.37L314.4 452.07L315.4 452.80L316.4 453.58L317.4 454.42L318.4 455.20L319.4 455.85L320.4 456.27L321.4 456.52L322.4 456.67L323.4 456.80L324.4 456.91L325.4 456.99L326.4 457.06L327.4 457.10L328.4 457.10L329.4 457.03L330.4 456.90L331.4 456.72L332.4 456.56L333.4 456.50L334.4 456.59L335.4 456.88L336.4 457.32L337.4 457.82L338.4 458.32L339.4 458.80L340.4 459.30L341.4 459.80L342.4 460.23L343.4 460.49L344.4 460.58L345.4 460.52L346.4 460.36L347.4 460.16L348.4 459.93L349.4 459.70L350.4 459.50L351.4 459.36L352.4 459.30L353.4 459.41L354.4 459.69L355.4 460.13L356.4 460.64L357.4 461.12L358.4 461.56L359.4 461.99L360.4 462.41L361.4 462.83L362.4 463.21L363.4 463.53L364.4 463.77L365.4 463.95L366.4 464.09L367.4 464.22L368.4 464.35L369.4 464.47L370.4 464.58L371.4 464.68L372.4 464.77L373.4 464.86L374.4 464.94L375.4 465.01L376.4 465.08L377.4 465.13L378.4 465.18L379.4 465.22L380.4 465.25L381.4 465.27L382.4 465.29L383.4 465.30L384.4 465.31L385.4 465.32L386.4 465.33L387.4 465.34L388.4 465.35L389.4 465.36L390.4 465.37L391.4 465.38L392.4 465.39L393.4 465.40L394.4 465.40L395.4 465.41L396.4 465.42L397.4 465.43L398.4 465.43L399.4 465.44L400.4 465.45L401.4 465.45L402.4 465.46L403.4 465.46L404.4 465.47L405.4 465.47L406.4 465.48L407.4 465.48L408.4 465.49L409.4 465.49L410.4 465.50L411.4 465.50L412.4 465.51L413.4 465.51L414.4 465.52L415.4 465.52L416.4 465.53L417.4 465.53L418.4 465.53L419.4 465.54L420.4 465.54L421.4 465.55L422.4 465.55L423.4 465.55L424.4 465.56L425.4 465.56L426.4 465.57L427.4 465.57L428.4 465.57L429.4 465.58L430.4 465.58L431.4 465.59L432.4 465.59L433.4 465.60L434.4 465.60L435.4 465.61L436.4 465.61L437.4 465.62L438.4 465.62L439.4 465.63L440.4 465.63L441.4 465.64L442.4 465.64L443.4 465.64L444.4 465.65L445.4 465.65L446.4 465.66L447.4 465.66L448.4 465.66L449.4 465.67L450.4 465.67L451.4 465.68L452.4 465.68L453.4 465.68L454.4 465.69L455.4 465.69L456.4 465.69L457.4 465.70L458.4 465.70L459.4 465.71L460.4 465.71L461.4 465.71L462.4 465.72L463.4 465.72L464.4 465.73L465.4 465.73L466.4 465.73L467.4 465.74L468.4 465.74L469.4 465.74L470.4 465.75L471.4 465.75L472.4 465.76L473.4 465.76L474.4 465.76L475.4 465.77L476.4 465.77L477.4 465.77L478.4 465.78L479.4 465.78L480.4 465.78L481.4 465.79L482.4 465.79L483.4 465.80L484.4 465.80L485.4 465.80L486.4 465.81L487.4 465.81L488.4 465.81L489.4 465.82L490.4 465.82L491.4 465.82L492.4 465.83L493.4 465.83L494.4 465.84L495.4 465.84L496.4 465.84L497.4 465.85L498.4 465.85L499.4 465.85L500.4 465.86L501.4 465.86L502.4 465.86L503.4 465.87L504.4 465.87L505.4 465.87L506.4 465.88L507.4 465.88L508.4 465.89L509.4 465.89L510.4 465.89L511.4 465.90L512.4 465.90L513.4 465.90L514.4 465.91L515.4 465.91L516.4 465.91L517.4 465.92L518.4 465.92L519.4 465.92L520.4 465.93L521.4 465.93L522.4 465.93L523.4 465.94L524.4 465.94L525.4 465.94L526.4 465.95L527.4 465.95L528.4 465.96L529.4 465.96L530.4 465.96L531.4 465.97L532.4 465.97L533.4 465.97L534.4 465.98L535.4 465.98L536.4 465.98L537.4 465.99L538.4 465.99L539.4 465.99L540.4 466.00L541.4 466.00L542.4 466.00L543.4 466.01L544.4 466.01L545.4 466.01L546.4 466.02L547.4 466.02L548.4 466.02L549.4 466.03L550.4 466.03L551.4 466.03L552.4 466.04L553.4 466.04L554.4 466.05L555.4 466.05L556.4 466.05L557.4 466.06L558.4 466.06L559.4 466.06L560.4 466.07L561.4 466.07L562.4 466.07L563.4 466.08L564.4 466.08L565.4 466.08L566.4 466.09L567.4 466.09L568.4 466.09L569.4 466.10L570.4 466.10L571.4 466.10L572.4 466.11L573.4 466.11L574.4 466.11L575.4 466.12L576.4 466.12L577.4 466.13L578.4 466.13L579.4 466.13L580.4 466.14L581.4 466.14L582.4 466.14L583.4 466.15L584.4 466.15L585.4 466.15L586.4 466.16L587.4 466.16L588.4 466.16L589.4 466.17L590.4 466.17L591.4 466.18L592.4 466.18L593.4 466.18L594.4 466.19L595.4 466.19L596.4 466.19L597.4 466.20L598.4 466.20L599.4 466.20L600.4 466.21L601.4 466.21L602.4 466.21L603.4 466.22L604.4 466.22L605.4 466.23L606.4 466.23L607.4 466.23L608.4 466.24L609.4 466.24L610.4 466.25L611.4 466.25L612.4 466.25L613.4 466.26L614.4 466.26L615.4 466.27L616.4 466.27L617.4 466.28L618.4 466.28L619.4 466.28L620.4 466.29L621.4 466.29L622.4 466.30L623.4 466.30L624.4 466.31L625.4 466.31L626.4 466.32L627.4 466.32L628.4 466.33L629.4 466.33L630.4 466.34L631.4 466.34L632.4 466.34L633.4 466.35L634.4 466.35L635.4 466.36L636.4 466.36L637.4 466.37L638.4 466.37L639.4 466.38L640.4 466.38L641.4 466.39L642.4 466.39L643.4 466.40L644.4 466.40L645.4 466.41L646.4 466.41L647.4 466.42L648.4 466.42L649.4 466.43L650.4 466.43L651.4 466.44L652.4 466.44L653.4 466.45L654.4 466.45L655.4 466.46L656.4 466.46L657.4 466.47L658.4 466.47L659.4 466.48L660.4 466.48L661.4 466.48L662.4 466.49L663.4 466.49L664.4 466.50L665.4 466.50L666.4 466.51L667.4 466.51L668.4 466.52L669.4 466.52L670.4 466.53L671.4 466.53L672.4 466.54L673.4 466.54L674.4 466.54L675.4 466.55L676.4 466.55L677.4 466.56L678.4 466.56L679.4 466.57L680.4 466.57L681.4 466.57L682.4 466.58L683.4 466.58L684.4 466.59L685.4 466.59L686.4 466.59L687.4 466.60L688.4 466.60L689.4 466.61L690.4 466.61L691.4 466.61L692.4 466.62L693.4 466.62L694.4 466.62L695.4 466.63L696.4 466.63L697.4 466.64L698.4 466.64L699.4 466.64L700.4 466.65L701.4 466.65L702.4 466.65L703.4 466.65L704.4 466.66L705.4 466.66L706.4 466.66L707.4 466.67L708.4 466.67L709.4 466.67L710.4 466.67L711.4 466.68L712.4 466.68L713.4 466.68L714.4 466.68L715.4 466.69L716.4 466.69L717.4 466.69L718.4 466.69L719.4 466.69L720.4 466.70L721.4 466.70L722.4 466.70L723.4 466.70L724.4 466.70L725.4 466.70L726.4 466.70L727.4 466.70L728.4 466.70L729.4 466.71L730.4 466.77L731.4 466.94L732.4 467.28L733.4 467.77L734.4 468.22L735.4 468.38L736.4 468.14L737.4 467.65L738.4 467.17L739.4 466.86L740.4 466.71L741.4 466.66L742.4 466.64L743.4 466.63L744.4 466.62L745.4 466.62L746.4 466.61L747.4 466.61L748.4 466.60L749.4 466.59L750.4 466.59L751.4 466.58L752.4 466.58L753.4 466.57L754.4 466.56L755.4 466.56L756.4 466.55L757.4 466.54L758.4 466.54L759.4 466.53L760.4 466.52L761.4 466.51L762.4 466.51L763.4 466.50L764.4 466.49L765.4 466.49L766.4 466.48L767.4 466.47L768.4 466.46L769.4 466.46L770.4 466.45L771.4 466.44L772.4 466.43L773.4 466.42L774.4 466.42L775.4 466.41L776.4 466.40L777.4 466.39L778.4 466.38L779.4 466.38L780.4 466.37L781.4 466.36L782.4 466.35L783.4 466.34L784.4 466.34L785.4 466.33L786.4 466.32L787.4 466.31L788.4 466.30L789.4 466.29L790.4 466.29L791.4 466.28L792.4 466.27L793.4 466.26L794.4 466.25L795.4 466.24L796.4 466.24L797.4 466.23L798.4 466.22L799.4 466.21L800.4 466.20L801.4 466.19L802.4 466.19L803.4 466.18L804.4 466.17L805.4 466.16L806.4 466.15L807.4 466.14L808.4 466.13L809.4 466.12L810.4 466.12L811.4 466.11L812.4 466.10L813.4 466.09L814.4 466.08L815.4 466.07L816.4 466.06L817.4 466.05L818.4 466.04L819.4 466.03L820.4 466.02L821.4 466.01L822.4 466.00L823.4 465.99L824.4 465.98L825.4 465.97L826.4 465.96L827.4 465.95L828.4 465.94L829.4 465.93L830.4 465.92L831.4 465.91L832.4 465.90L833.4 465.89L834.4 465.87L835.4 465.86L836.4 465.85L837.4 465.84L838.4 465.83L839.4 465.82L840.4 465.81L841.4 465.80L842.4 465.79L843.4 465.78L844.4 465.77L845.4 465.76L846.4 465.75L847.4 465.74L848.4 465.73L849.4 465.72L850.4 465.70L851.4 465.69L852.4 465.68L853.4 465.67L854.4 465.66L855.4 465.65L856.4 465.64L857.4 465.63L858.4 465.62L859.4 465.61L860.4 465.61L861.4 465.61L862.4 465.61L863.4 465.62L864.4 465.62L865.4 465.63L866.4 465.63L867.4 465.64L868.4 465.64L869.4 465.65L870.4 465.65L871.4 465.66L872.4 465.66L873.4 465.67L874.4 465.67L875.4 465.68L876.4 465.68L877.4 465.69L878.4 465.69L879.4 465.70L880.4 465.70L881.4 465.71L882.4 465.71L883.4 465.72L884.4 465.72L885.4 465.73L886.4 465.73L887.4 465.73L888.4 465.74L889.4 465.74L890.4 465.74L891.4 465.75L892.4 465.75L893.4 465.75L894.4 465.75L895.4 465.75L896.4 465.75L897.4 465.75L898.4 465.75L899.4 465.75L900.4 465.75L901.4 465.75L902.4 465.75L903.4 465.74L904.4 465.74L905.4 465.72L906.4 465.70L907.4 465.68L908.4 465.65L909.4 465.61L910.4 465.57L911.4 465.52L912.4 465.47L913.4 465.41L914.4 465.35L915.4 465.29L916.4 465.22L917.4 465.15L918.4 465.08L919.4 465.00L920.4 464.93L921.4 464.85L922.4 464.76L923.4 464.68L924.4 464.59L925.4 464.51L926.4 464.42L927.4 464.33L928.4 464.24L929.4 464.15L930.4 464.06L931.4 463.97L932.4 463.87L933.4 463.76L934.4 463.63L935.4 463.49L936.4 463.32L937.4 463.13L938.4 462.88L939.4 462.56L940.4 462.15L941.4 461.65L942.4 461.06L943.4 460.39L944.4 459.62L945.4 458.69L946.4 457.47L947.4 455.90L948.4 454.00L949.4 451.85L950.4 449.54L951.4 447.02L952.4 444.23L953.4 441.10L954.4 437.65L955.4 433.93L956.4 429.81L957.4 425.14L958.4 419.95L959.4 414.58L960.4 409.50L961.4 404.87L962.4 400.88L963.4 397.63L964.4 395.38L965.4 394.20L966.4 394.11L967.4 395.10L968.4 397.11L969.4 400.11L970.4 404.23L971.4 410.48L972.4 418.57L973.4 426.84L974.4 433.68L975.4 438.77L976.4 442.99L977.4 446.37L978.4 449.02L979.4 451.13L980.4 452.94L981.4 454.51L982.4 455.86L983.4 457.00L984.4 457.97L985.4 458.83L986.4 459.64L987.4 460.40L988.4 461.10L989.4 461.72L990.4 462.22L991.4 462.60L992.4 462.82L993.4 462.92L994.4 462.95L995.4 462.95L996.4 462.96L997.4 462.97L998.4 462.98L999.4 462.99L1000.4 462.99L1001.4 462.98L1002.4 462.97L1003.4 462.96L1004.4 462.95L1005.4 462.94L1006.4 462.93L1007.4 462.92L1008.4 462.89L1009.4 462.86L1010.4 462.82L1011.4 462.76L1012.4 462.70L1013.4 462.64L1014.4 462.56L1015.4 462.49L1016.4 462.40L1017.4 462.32L1018.4 462.24L1019.4 462.15L1020.4 462.07L1021.4 461.99L1022.4 461.92L1023.4 461.85L1024.4 461.78L1025.4 461.71L1026.4 461.64L1027.4 461.57L1028.4 461.50L1029.4 461.42L1030.4 461.35L1031.4 461.27L1032.4 461.20L1033.4 461.13L1034.4 461.06L1035.4 461.00L1036.4 460.94L1037.4 460.89L1038.4 460.85L1039.4 460.81L1040.4 460.78L1041.4 460.76L1042.4 460.75L1043.4 460.75L1044.4 460.75L1045.4 460.75L1046.4 460.76L1047.4 460.78L1048.4 460.80L1049.4 460.82L1050.4 460.85L1051.4 460.88L1052.4 460.92L1053.4 460.96L1054.4 461.03L1055.4 461.13L1056.4 461.29L1057.4 461.48L1058.4 461.70L1059.4 461.94L1060.4 462.20L1061.4 462.47L1062.4 462.73L1063.4 462.98L1064.4 463.21L1065.4 463.42L1066.4 463.59L1067.4 463.72L1068.4 463.83L1069.4 463.92L1070.4 464.02L1071.4 464.11L1072.4 464.20L1073.4 464.29L1074.4 464.37L1075.4 464.45L1076.4 464.52L1077.4 464.58L1078.4 464.64L1079.4 464.69L1080.4 464.73L1081.4 464.76L1082.4 464.78L1083.4 464.79L1084.4 464.79L1085.4 464.79L1086.4 464.77L1087.4 464.75L1088.4 464.73L1089.4 464.70L1090.4 464.67L1091.4 464.64L1092.4 464.61L1093.4 464.57L1094.4 464.53L1095.4 464.50L1096.4 464.46L1097.4 464.42L1098.4 464.37L1099.4 464.34L1100.4 464.30L1101.4 464.28L1102.4 464.26L1103.4 464.23L1104.4 464.20L1105.4 464.17L1106.4 464.12L1107.4 464.07L1108.4 464.01L1109.4 463.93L1110.4 463.82L1111.4 463.68L1112.4 463.49L1113.4 463.26L1114.4 463.00L1115.4 462.68L1116.4 462.22L1117.4 461.57L1118.4 460.67L1119.4 459.56L1120.4 458.29L1121.4 456.86L1122.4 455.13L1123.4 453.01L1124.4 450.55L1125.4 448.01L1126.4 445.64L1127.4 443.46L1128.4 441.55L1129.4 440.03L1130.4 438.98L1131.4 438.55L1132.4 438.68L1133.4 439.32L1134.4 440.39L1135.4 441.82L1136.4 443.70L1137.4 446.31L1138.4 449.63L1139.4 453.16L1140.4 456.04L1141.4 458.08L1142.4 459.55L1143.4 460.69L1144.4 461.42L1145.4 461.82L1146.4 462.02L1147.4 462.16L1148.4 462.28L1149.4 462.37L1150.4 462.43L1151.4 462.47L1152.4 462.48L1153.4 462.48L1154.4 462.45L1155.4 462.40L1156.4 462.33L1157.4 462.25L1158.4 462.14L1159.4 461.91L1160.4 461.49L1161.4 460.85L1162.4 459.98L1163.4 458.59L1164.4 456.49L1165.4 453.83L1166.4 451.13L1167.4 448.66L1168.4 446.50L1169.4 444.77L1170.4 443.55L1171.4 442.76L1172.4 442.20L1173.4 441.90L1174.4 441.95L1175.4 442.39L1176.4 443.14L1177.4 443.95L1178.4 444.53L1179.4 444.75L1180.4 444.67L1181.4 444.48L1182.4 444.26L1183.4 444.05L1184.4 443.88L1185.4 443.82L1186.4 443.93L1187.4 444.24L1188.4 444.73L1189.4 445.49L1190.4 446.66L1191.4 448.23L1192.4 449.90L1193.4 451.43L1194.4 452.78L1195.4 453.98L1196.4 454.98L1197.4 455.65L1198.4 456.02L1199.4 456.23L1200.4 456.40L1201.4 456.53L1202.4 456.63L1203.4 456.70L1204.4 456.72L1205.4 456.69L1206.4 456.59L1207.4 456.41L1208.4 456.16L1209.4 455.89L1210.4 455.62L1211.4 455.41L1212.4 455.25L1213.4 455.16L1214.4 455.19L1215.4 455.34L1216.4 455.60L1217.4 455.94L1218.4 456.32L1219.4 456.69L1220.4 457.03L1221.4 457.28L1222.4 457.40L1223.4 457.26L1224.4 456.79L1225.4 456.03L1226.4 455.10L1227.4 453.96L1228.4 452.58L1229.4 451.00L1230.4 449.55L1231.4 448.47L1232.4 447.74L1233.4 447.21L1234.4 446.80L1235.4 446.54L1236.4 446.48L1237.4 446.68L1238.4 447.14L1239.4 447.80L1240.4 448.49L1241.4 449.05L1242.4 449.38L1243.4 449.50L1244.4 449.50L1245.4 449.48L1246.4 449.45L1247.4 449.40L1248.4 449.33L1249.4 449.15L1250.4 448.82L1251.4 448.30L1252.4 447.59L1253.4 446.43L1254.4 444.67L1255.4 442.35L1256.4 439.71L1257.4 436.84L1258.4 433.84L1259.4 431.11L1260.4 429.10L1261.4 427.82L1262.4 427.02L1263.4 426.41L1264.4 425.95L1265.4 425.59L1266.4 425.31L1267.4 425.09L1268.4 424.90L1269.4 424.66L1270.4 424.29L1271.4 423.76L1272.4 423.11L1273.4 422.29L1274.4 421.22L1275.4 419.76L1276.4 417.21L1277.4 413.09L1278.4 407.85L1279.4 402.40L1280.4 397.75L1281.4 394.23L1282.4 391.86L1283.4 390.54L1284.4 389.63L1285.4 389.13L1286.4 388.95L1287.4 389.55L1288.4 391.08L1289.4 394.07L1290.4 399.44L1291.4 407.16L1292.4 416.56L1293.4 426.10L1294.4 434.24L1295.4 440.46L1296.4 444.75L1297.4 447.87L1298.4 449.69L1299.4 450.23L1300.4 449.71L1301.4 448.59L1302.4 447.01L1303.4 444.48L1304.4 440.63L1305.4 435.57L1306.4 430.11L1307.4 424.66L1308.4 419.55L1309.4 415.35L1310.4 412.49L1311.4 410.86L1312.4 410.11L1313.4 409.88L1314.4 410.31L1315.4 411.17L1316.4 412.44L1317.4 413.56L1318.4 414.36L1319.4 414.86L1320.4 415.22L1321.4 415.36L1322.4 415.13L1323.4 414.29L1324.4 412.76L1325.4 410.51L1326.4 407.28L1327.4 402.98L1328.4 397.92L1329.4 392.53L1330.4 386.97L1331.4 381.31L1332.4 376.03L1333.4 371.52L1334.4 367.80L1335.4 364.91L1336.4 362.94L1337.4 361.86L1338.4 361.50L1339.4 360.85L1340.4 359.96L1341.4 359.16L1342.4 359.81L1343.4 362.07L1344.4 365.63L1345.4 370.28L1346.4 375.80L1347.4 381.56L1348.4 387.01L1349.4 391.82L1350.4 395.59L1351.4 397.94L1352.4 398.88L1353.4 399.39L1354.4 399.40L1355.4 398.84L1356.4 397.33L1357.4 394.98L1358.4 391.54L1359.4 387.84L1360.4 385.11L1361.4 384.17L1362.4 383.93L1363.4 383.91L1364.4 383.99L1365.4 384.62L1366.4 385.59L1367.4 386.96L1368.4 388.88L1369.4 391.41L1370.4 394.52L1371.4 398.01L1372.4 401.60L1373.4 405.22L1374.4 408.89L1375.4 412.67L1376.4 416.43L1377.4 419.96L1378.4 423.15L1379.4 426.00L1380.4 428.58L1381.4 431.00L1382.4 433.27L1383.4 435.46L1384.4 437.62L1385.4 439.76L1386.4 441.77L1387.4 443.51L1388.4 444.88L1389.4 445.94L1390.4 446.83L1391.4 447.71L1392.4 448.55L1393.4 449.31L1394.4 449.91L1395.4 450.36L1396.4 450.70L1397.4 450.98L1398.4 451.25L1399.4 451.49L1400.4 451.70L1401.4 451.89L1402.4 452.06L1403.4 452.19L1404.4 452.25L1405.4 452.18L1406.4 451.97L1407.4 451.69L1408.4 451.44L1409.4 451.29L1410.4 451.30L1411.4 451.53L1412.4 451.99L1413.4 452.63L1414.4 453.29L1415.4 453.81L1416.4 454.14L1417.4 454.30L1418.4 454.40L1419.4 454.48L1420.4 454.54L1421.4 454.59L1422.4 454.62L1423.4 454.62L1424.4 454.59L1425.4 454.57L1426.4 454.58L1427.4 454.62L1428.4 454.68L1429.4 454.74L1430.4 454.80L1431.4 454.86L1432.4 454.92L1433.4 454.97L1434.4 455.03L1435.4 455.09L1436.4 455.14L1437.4 455.19L1438.4 455.23L1439.4 455.27L1440.4 455.30L1441.4 455.33L1442.4 455.35L1443.4 455.36L1444.4 455.37L1445.4 455.35L1446.4 455.24L1447.4 454.97L1448.4 454.53L1449.4 453.98L1450.4 453.32L1451.4 452.46L1452.4 451.34L1453.4 450.02L1454.4 448.75L1455.4 447.66L1456.4 446.73L1457.4 445.94L1458.4 445.39L1459.4 445.24L1460.4 445.57L1461.4 446.35L1462.4 447.46L1463.4 448.69L1464.4 450.01L1465.4 451.43L1466.4 452.92L1467.4 454.28L1468.4 455.42L1469.4 456.36L1470.4 457.21L1471.4 457.98L1472.4 458.65L1473.4 459.20L1474.4 459.61L1475.4 459.91L1476.4 460.13L1477.4 460.32L1478.4 460.49L1479.4 460.65L1480.4 460.78L1481.4 460.89L1482.4 460.99L1483.4 461.05L1484.4 461.09L1485.4 461.11L1486.4 461.11L1487.4 461.10L1488.4 461.08L1489.4 461.05L1490.4 461.01L1491.4 460.96L1492.4 460.91L1493.4 460.86L1494.4 460.80L1495.4 460.74L1496.4 460.67L1497.4 460.59L1498.4 460.48L1499.4 460.31L1500.4 460.07L1501.4 459.78L1502.4 459.44L1503.4 459.07L1504.4 458.67L1505.4 458.26L1506.4 457.82L1507.4 457.32L1508.4 456.76L1509.4 456.12L1510.4 455.43L1511.4 454.70L1512.4 453.94L1513.4 453.11L1514.4 452.19L1515.4 451.17L1516.4 450.15L1517.4 449.23L1518.4 448.45L1519.4 447.76L1520.4 447.17L1521.4 446.72L1522.4 446.53L1523.4 446.72L1524.4 447.28L1525.4 448.12L1526.4 449.04L1527.4 449.97L1528.4 450.91L1529.4 451.89L1530.4 452.85L1531.4 453.72L1532.4 454.48L1533.4 455.17L1534.4 455.80L1535.4 456.34L1536.4 456.70L1537.4 456.81L1538.4 456.67L1539.4 456.32L1540.4 455.83L1541.4 455.30L1542.4 454.76L1543.4 454.22L1544.4 453.65L1545.4 453.07L1546.4 452.54L1547.4 452.12L1548.4 451.78L1549.4 451.50L1550.4 451.24L1551.4 451.02L1552.4 450.84L1553.4 450.71L1554.4 450.63L1555.4 450.60L1556.4 450.59L1557.4 450.57L1558.4 450.56L1559.4 450.54L1560.4 450.53L1561.4 450.51L1562.4 450.50L1563.4 450.48L1564.4 450.47L1565.4 450.45L1566.4 450.43L1567.4 450.42L1568.4 450.43L1569.4 450.47L1570.4 450.52L1571.4 450.60L1572.4 450.69L1573.4 450.79L1574.4 450.90L1575.4 451.02L1576.4 451.13L1577.4 451.25L1578.4 451.35L1579.4 451.46L1580.4 451.57L1581.4 451.69L1582.4 451.81L1583.4 451.94L1584.4 452.08L1585.4 452.21L1586.4 452.35L1587.4 452.50L1588.4 452.64L1589.4 452.78L1590.4 452.92L1591.4 453.06L1592.4 453.19L1593.4 453.31L1594.4 453.43L1595.4 453.54L1596.4 453.65L1597.4 453.75L1598.4 453.85L1599.4 453.96L1600.4 454.06L1601.4 454.16L1602.4 454.26L1603.4 454.36L1604.4 454.46L1605.4 454.55L1606.4 454.63L1607.4 454.71L1608.4 454.78L1609.4 454.85L1610.4 454.90L1611.4 454.95L1612.4 454.98L1613.4 455.01L1614.4 455.03L1615.4 455.05L1616.4 455.08L1617.4 455.11L1618.4 455.14L1619.4 455.17L1620.4 455.20L1621.4 455.23L1622.4 455.25L1623.4 455.26L1624.4 455.27L1625.4 455.28L1626.4 455.27L1627.4 455.24L1628.4 455.20L1629.4 455.14L1630.4 455.08L1631.4 455.00L1632.4 454.93L1633.4 454.85L1634.4 454.78L1635.4 454.71L1636.4 454.66L1637.4 454.61L1638.4 454.59L1639.4 454.57L1640.4 454.58L1641.4 454.59L1642.4 454.61L1643.4 454.63L1644.4 454.66L1645.4 454.69L1646.4 454.72L1647.4 454.76L1648.4 454.80L1649.4 454.84L1650.4 454.88L1651.4 454.93L1652.4 454.97L1653.4 455.01L1654.4 455.05L1655.4 455.10L1656.4 455.15L1657.4 455.21L1658.4 455.26L1659.4 455.32L1660.4 455.38L1661.4 455.45L1662.4 455.51L1663.4 455.58L1664.4 455.65L1665.4 455.73L1666.4 455.78" fill="none" stroke="#cf9b05" stroke-width="8.44" stroke-linejoin="round" stroke-linecap="butt"/><path d="M150.4 583.77L151.4 583.77L152.4 583.77L153.4 583.78L154.4 583.78L155.4 583.78L156.4 583.78L157.4 583.78L158.4 583.79L159.4 583.79L160.4 583.79L161.4 583.79L162.4 583.79L163.4 583.80L164.4 583.80L165.4 583.80L166.4 583.80L167.4 583.80L168.4 583.81L169.4 583.81L170.4 583.81L171.4 583.81L172.4 583.81L173.4 583.81L174.4 583.82L175.4 583.82L176.4 583.82L177.4 583.82L178.4 583.82L179.4 583.83L180.4 583.83L181.4 583.83L182.4 583.83L183.4 583.83L184.4 583.84L185.4 583.84L186.4 583.84L187.4 583.84L188.4 583.84L189.4 583.85L190.4 583.85L191.4 583.85L192.4 583.85L193.4 583.85L194.4 583.86L195.4 583.86L196.4 583.86L197.4 583.86L198.4 583.86L199.4 583.87L200.4 583.87L201.4 583.87L202.4 583.87L203.4 583.87L204.4 583.87L205.4 583.88L206.4 583.88L207.4 583.88L208.4 583.88L209.4 583.88L210.4 583.89L211.4 583.89L212.4 583.89L213.4 583.89L214.4 583.89L215.4 583.89L216.4 583.89L217.4 583.88L218.4 583.88L219.4 583.88L220.4 583.88L221.4 583.87L222.4 583.87L223.4 583.86L224.4 583.86L225.4 583.85L226.4 583.84L227.4 583.84L228.4 583.83L229.4 583.82L230.4 583.81L231.4 583.80L232.4 583.79L233.4 583.78L234.4 583.77L235.4 583.76L236.4 583.74L237.4 583.73L238.4 583.71L239.4 583.70L240.4 583.68L241.4 583.67L242.4 583.65L243.4 583.63L244.4 583.60L245.4 583.54L246.4 583.45L247.4 583.34L248.4 583.20L249.4 583.04L250.4 582.87L251.4 582.68L252.4 582.49L253.4 582.29L254.4 582.09L255.4 581.89L256.4 581.70L257.4 581.52L258.4 581.32L259.4 581.11L260.4 580.87L261.4 580.63L262.4 580.40L263.4 580.20L264.4 580.04L265.4 579.94L266.4 579.91L267.4 579.93L268.4 579.99L269.4 580.07L270.4 580.17L271.4 580.26L272.4 580.34L273.4 580.40L274.4 580.40L275.4 580.25L276.4 579.91L277.4 579.39L278.4 578.74L279.4 578.04L280.4 577.36L281.4 576.69L282.4 576.02L283.4 575.29L284.4 574.53L285.4 573.81L286.4 573.21L287.4 572.82L288.4 572.69L289.4 572.85L290.4 573.27L291.4 573.83L292.4 574.43L293.4 574.99L294.4 575.52L295.4 576.04L296.4 576.51L297.4 576.84L298.4 576.96L299.4 576.88L300.4 576.66L301.4 576.36L302.4 576.00L303.4 575.59L304.4 575.05L305.4 574.39L306.4 573.68L307.4 573.10L308.4 572.78L309.4 572.75L310.4 572.99L311.4 573.40L312.4 573.91L313.4 574.45L314.4 574.99L315.4 575.56L316.4 576.17L317.4 576.82L318.4 577.43L319.4 577.92L320.4 578.26L321.4 578.45L322.4 578.57L323.4 578.67L324.4 578.75L325.4 578.82L326.4 578.87L327.4 578.91L328.4 578.91L329.4 578.86L330.4 578.75L331.4 578.61L332.4 578.49L333.4 578.44L334.4 578.52L335.4 578.74L336.4 579.08L337.4 579.47L338.4 579.86L339.4 580.24L340.4 580.62L341.4 581.01L342.4 581.34L343.4 581.55L344.4 581.62L345.4 581.57L346.4 581.45L347.4 581.30L348.4 581.12L349.4 580.94L350.4 580.79L351.4 580.68L352.4 580.64L353.4 580.72L354.4 580.94L355.4 581.28L356.4 581.68L357.4 582.05L358.4 582.39L359.4 582.72L360.4 583.06L361.4 583.38L362.4 583.68L363.4 583.92L364.4 584.11L365.4 584.25L366.4 584.36L367.4 584.46L368.4 584.56L369.4 584.65L370.4 584.74L371.4 584.82L372.4 584.90L373.4 584.96L374.4 585.03L375.4 585.08L376.4 585.13L377.4 585.18L378.4 585.22L379.4 585.25L380.4 585.27L381.4 585.29L382.4 585.30L383.4 585.31L384.4 585.32L385.4 585.33L386.4 585.34L387.4 585.35L388.4 585.36L389.4 585.37L390.4 585.38L391.4 585.39L392.4 585.39L393.4 585.40L394.4 585.41L395.4 585.41L396.4 585.42L397.4 585.43L398.4 585.43L399.4 585.44L400.4 585.45L401.4 585.45L402.4 585.46L403.4 585.46L404.4 585.47L405.4 585.48L406.4 585.48L407.4 585.49L408.4 585.49L409.4 585.50L410.4 585.50L411.4 585.50L412.4 585.51L413.4 585.51L414.4 585.52L415.4 585.52L416.4 585.53L417.4 585.53L418.4 585.53L419.4 585.54L420.4 585.54L421.4 585.55L422.4 585.55L423.4 585.55L424.4 585.56L425.4 585.56L426.4 585.57L427.4 585.57L428.4 585.58L429.4 585.58L430.4 585.58L431.4 585.59L432.4 585.59L433.4 585.60L434.4 585.60L435.4 585.61L436.4 585.61L437.4 585.62L438.4 585.62L439.4 585.63L440.4 585.64L441.4 585.65L442.4 585.67L443.4 585.69L444.4 585.70L445.4 585.72L446.4 585.74L447.4 585.75L448.4 585.77L449.4 585.79L450.4 585.80L451.4 585.82L452.4 585.84L453.4 585.85L454.4 585.87L455.4 585.89L456.4 585.90L457.4 585.92L458.4 585.94L459.4 585.95L460.4 585.97L461.4 585.99L462.4 586.00L463.4 586.02L464.4 586.04L465.4 586.05L466.4 586.07L467.4 586.09L468.4 586.10L469.4 586.12L470.4 586.14L471.4 586.15L472.4 586.17L473.4 586.19L474.4 586.20L475.4 586.22L476.4 586.24L477.4 586.25L478.4 586.27L479.4 586.29L480.4 586.30L481.4 586.32L482.4 586.33L483.4 586.35L484.4 586.37L485.4 586.38L486.4 586.40L487.4 586.42L488.4 586.43L489.4 586.45L490.4 586.47L491.4 586.48L492.4 586.50L493.4 586.52L494.4 586.53L495.4 586.55L496.4 586.57L497.4 586.58L498.4 586.60L499.4 586.61L500.4 586.63L501.4 586.65L502.4 586.66L503.4 586.68L504.4 586.70L505.4 586.71L506.4 586.73L507.4 586.75L508.4 586.76L509.4 586.78L510.4 586.80L511.4 586.81L512.4 586.83L513.4 586.84L514.4 586.86L515.4 586.88L516.4 586.89L517.4 586.91L518.4 586.93L519.4 586.94L520.4 586.96L521.4 586.98L522.4 586.99L523.4 587.01L524.4 587.02L525.4 587.04L526.4 587.06L527.4 587.07L528.4 587.09L529.4 587.11L530.4 587.12L531.4 587.14L532.4 587.15L533.4 587.17L534.4 587.19L535.4 587.20L536.4 587.22L537.4 587.24L538.4 587.25L539.4 587.27L540.4 587.29L541.4 587.30L542.4 587.32L543.4 587.33L544.4 587.35L545.4 587.37L546.4 587.38L547.4 587.40L548.4 587.42L549.4 587.43L550.4 587.45L551.4 587.46L552.4 587.48L553.4 587.50L554.4 587.51L555.4 587.53L556.4 587.55L557.4 587.56L558.4 587.58L559.4 587.60L560.4 587.61L561.4 587.63L562.4 587.64L563.4 587.66L564.4 587.68L565.4 587.69L566.4 587.71L567.4 587.73L568.4 587.74L569.4 587.76L570.4 587.78L571.4 587.79L572.4 587.81L573.4 587.82L574.4 587.84L575.4 587.86L576.4 587.87L577.4 587.89L578.4 587.91L579.4 587.92L580.4 587.94L581.4 587.96L582.4 587.97L583.4 587.99L584.4 588.00L585.4 588.02L586.4 588.04L587.4 588.05L588.4 588.07L589.4 588.09L590.4 588.10L591.4 588.12L592.4 588.14L593.4 588.15L594.4 588.17L595.4 588.19L596.4 588.20L597.4 588.22L598.4 588.23L599.4 588.25L600.4 588.27L601.4 588.28L602.4 588.30L603.4 588.32L604.4 588.33L605.4 588.35L606.4 588.37L607.4 588.38L608.4 588.40L609.4 588.42L610.4 588.44L611.4 588.45L612.4 588.47L613.4 588.49L614.4 588.50L615.4 588.52L616.4 588.54L617.4 588.56L618.4 588.57L619.4 588.59L620.4 588.61L621.4 588.62L622.4 588.64L623.4 588.66L624.4 588.68L625.4 588.69L626.4 588.71L627.4 588.73L628.4 588.75L629.4 588.77L630.4 588.78L631.4 588.80L632.4 588.82L633.4 588.84L634.4 588.85L635.4 588.87L636.4 588.89L637.4 588.91L638.4 588.93L639.4 588.94L640.4 588.96L641.4 588.98L642.4 589.00L643.4 589.01L644.4 589.03L645.4 589.05L646.4 589.07L647.4 589.09L648.4 589.10L649.4 589.12L650.4 589.14L651.4 589.16L652.4 589.18L653.4 589.19L654.4 589.21L655.4 589.23L656.4 589.25L657.4 589.27L658.4 589.28L659.4 589.30L660.4 589.32L661.4 589.34L662.4 589.35L663.4 589.37L664.4 589.39L665.4 589.41L666.4 589.43L667.4 589.44L668.4 589.46L669.4 589.48L670.4 589.50L671.4 589.51L672.4 589.53L673.4 589.55L674.4 589.57L675.4 589.58L676.4 589.60L677.4 589.62L678.4 589.64L679.4 589.65L680.4 589.67L681.4 589.69L682.4 589.71L683.4 589.72L684.4 589.74L685.4 589.76L686.4 589.77L687.4 589.79L688.4 589.81L689.4 589.82L690.4 589.84L691.4 589.86L692.4 589.88L693.4 589.89L694.4 589.91L695.4 589.92L696.4 589.94L697.4 589.96L698.4 589.97L699.4 589.99L700.4 590.01L701.4 590.02L702.4 590.04L703.4 590.05L704.4 590.07L705.4 590.09L706.4 590.10L707.4 590.12L708.4 590.13L709.4 590.15L710.4 590.16L711.4 590.18L712.4 590.19L713.4 590.21L714.4 590.22L715.4 590.24L716.4 590.25L717.4 590.27L718.4 590.28L719.4 590.30L720.4 590.31L721.4 590.33L722.4 590.34L723.4 590.35L724.4 590.37L725.4 590.38L726.4 590.38L727.4 590.38L728.4 590.38L729.4 590.39L730.4 590.45L731.4 590.63L732.4 591.00L733.4 591.53L734.4 592.02L735.4 592.19L736.4 591.92L737.4 591.38L738.4 590.86L739.4 590.51L740.4 590.35L741.4 590.28L742.4 590.26L743.4 590.25L744.4 590.24L745.4 590.23L746.4 590.22L747.4 590.21L748.4 590.20L749.4 590.19L750.4 590.18L751.4 590.17L752.4 590.16L753.4 590.15L754.4 590.14L755.4 590.13L756.4 590.12L757.4 590.11L758.4 590.09L759.4 590.08L760.4 590.07L761.4 590.06L762.4 590.05L763.4 590.04L764.4 590.03L765.4 590.01L766.4 590.00L767.4 589.99L768.4 589.98L769.4 589.97L770.4 589.95L771.4 589.94L772.4 589.93L773.4 589.92L774.4 589.90L775.4 589.89L776.4 589.88L777.4 589.87L778.4 589.85L779.4 589.84L780.4 589.83L781.4 589.82L782.4 589.80L783.4 589.79L784.4 589.78L785.4 589.76L786.4 589.75L787.4 589.74L788.4 589.73L789.4 589.71L790.4 589.70L791.4 589.69L792.4 589.67L793.4 589.66L794.4 589.65L795.4 589.63L796.4 589.62L797.4 589.61L798.4 589.60L799.4 589.58L800.4 589.57L801.4 589.56L802.4 589.54L803.4 589.53L804.4 589.52L805.4 589.50L806.4 589.49L807.4 589.48L808.4 589.46L809.4 589.45L810.4 589.43L811.4 589.42L812.4 589.40L813.4 589.39L814.4 589.37L815.4 589.36L816.4 589.35L817.4 589.33L818.4 589.31L819.4 589.30L820.4 589.28L821.4 589.27L822.4 589.25L823.4 589.24L824.4 589.22L825.4 589.21L826.4 589.19L827.4 589.17L828.4 589.16L829.4 589.14L830.4 589.13L831.4 589.11L832.4 589.09L833.4 589.08L834.4 589.06L835.4 589.05L836.4 589.03L837.4 589.01L838.4 589.00L839.4 588.98L840.4 588.96L841.4 588.95L842.4 588.93L843.4 588.91L844.4 588.90L845.4 588.88L846.4 588.87L847.4 588.85L848.4 588.83L849.4 588.82L850.4 588.80L851.4 588.78L852.4 588.77L853.4 588.75L854.4 588.73L855.4 588.72L856.4 588.70L857.4 588.68L858.4 588.67L859.4 588.65L860.4 588.64L861.4 588.63L862.4 588.62L863.4 588.61L864.4 588.59L865.4 588.58L866.4 588.58L867.4 588.57L868.4 588.56L869.4 588.55L870.4 588.54L871.4 588.53L872.4 588.52L873.4 588.51L874.4 588.50L875.4 588.49L876.4 588.49L877.4 588.48L878.4 588.47L879.4 588.46L880.4 588.45L881.4 588.44L882.4 588.43L883.4 588.42L884.4 588.42L885.4 588.41L886.4 588.40L887.4 588.39L888.4 588.38L889.4 588.36L890.4 588.35L891.4 588.34L892.4 588.33L893.4 588.32L894.4 588.31L895.4 588.29L896.4 588.28L897.4 588.26L898.4 588.25L899.4 588.24L900.4 588.22L901.4 588.20L902.4 588.19L903.4 588.17L904.4 588.14L905.4 588.11L906.4 588.06L907.4 588.01L908.4 587.95L909.4 587.88L910.4 587.80L911.4 587.72L912.4 587.63L913.4 587.53L914.4 587.42L915.4 587.31L916.4 587.20L917.4 587.08L918.4 586.95L919.4 586.82L920.4 586.69L921.4 586.55L922.4 586.41L923.4 586.27L924.4 586.12L925.4 585.97L926.4 585.83L927.4 585.68L928.4 585.52L929.4 585.37L930.4 585.22L931.4 585.06L932.4 584.89L933.4 584.71L934.4 584.50L935.4 584.26L936.4 583.99L937.4 583.68L938.4 583.29L939.4 582.78L940.4 582.14L941.4 581.36L942.4 580.44L943.4 579.39L944.4 578.20L945.4 576.75L946.4 574.87L947.4 572.44L948.4 569.50L949.4 566.20L950.4 562.63L951.4 558.75L952.4 554.46L953.4 549.64L954.4 544.34L955.4 538.61L956.4 532.27L957.4 525.09L958.4 517.12L959.4 508.86L960.4 501.05L961.4 493.93L962.4 487.80L963.4 482.79L964.4 479.33L965.4 477.50L966.4 477.35L967.4 478.86L968.4 481.92L969.4 486.50L970.4 492.81L971.4 502.39L972.4 514.80L973.4 527.47L974.4 537.94L975.4 545.74L976.4 552.19L977.4 557.36L978.4 561.41L979.4 564.65L980.4 567.41L981.4 569.81L982.4 571.86L983.4 573.59L984.4 575.07L985.4 576.37L986.4 577.59L987.4 578.75L988.4 579.81L989.4 580.74L990.4 581.50L991.4 582.06L992.4 582.39L993.4 582.52L994.4 582.55L995.4 582.55L996.4 582.55L997.4 582.54L998.4 582.54L999.4 582.54L1000.4 582.53L1001.4 582.52L1002.4 582.51L1003.4 582.49L1004.4 582.48L1005.4 582.46L1006.4 582.45L1007.4 582.43L1008.4 582.40L1009.4 582.35L1010.4 582.29L1011.4 582.21L1012.4 582.12L1013.4 582.02L1014.4 581.92L1015.4 581.80L1016.4 581.69L1017.4 581.57L1018.4 581.45L1019.4 581.33L1020.4 581.22L1021.4 581.11L1022.4 581.00L1023.4 580.90L1024.4 580.81L1025.4 580.72L1026.4 580.63L1027.4 580.53L1028.4 580.44L1029.4 580.34L1030.4 580.24L1031.4 580.14L1032.4 580.04L1033.4 579.95L1034.4 579.87L1035.4 579.79L1036.4 579.72L1037.4 579.66L1038.4 579.61L1039.4 579.57L1040.4 579.54L1041.4 579.52L1042.4 579.51L1043.4 579.52L1044.4 579.53L1045.4 579.55L1046.4 579.57L1047.4 579.60L1048.4 579.64L1049.4 579.69L1050.4 579.74L1051.4 579.79L1052.4 579.85L1053.4 579.92L1054.4 580.02L1055.4 580.17L1056.4 580.39L1057.4 580.66L1058.4 580.97L1059.4 581.32L1060.4 581.67L1061.4 582.04L1062.4 582.40L1063.4 582.75L1064.4 583.07L1065.4 583.35L1066.4 583.58L1067.4 583.76L1068.4 583.91L1069.4 584.05L1070.4 584.18L1071.4 584.30L1072.4 584.43L1073.4 584.54L1074.4 584.65L1075.4 584.76L1076.4 584.86L1077.4 584.94L1078.4 585.02L1079.4 585.09L1080.4 585.15L1081.4 585.19L1082.4 585.22L1083.4 585.24L1084.4 585.24L1085.4 585.23L1086.4 585.22L1087.4 585.19L1088.4 585.17L1089.4 585.14L1090.4 585.10L1091.4 585.07L1092.4 585.03L1093.4 584.99L1094.4 584.94L1095.4 584.90L1096.4 584.85L1097.4 584.80L1098.4 584.76L1099.4 584.71L1100.4 584.66L1101.4 584.61L1102.4 584.56L1103.4 584.50L1104.4 584.44L1105.4 584.37L1106.4 584.29L1107.4 584.20L1108.4 584.10L1109.4 583.98L1110.4 583.81L1111.4 583.61L1112.4 583.35L1113.4 583.05L1114.4 582.70L1115.4 582.28L1116.4 581.71L1117.4 580.89L1118.4 579.77L1119.4 578.40L1120.4 576.84L1121.4 575.10L1122.4 572.99L1123.4 570.43L1124.4 567.47L1125.4 564.42L1126.4 561.58L1127.4 558.98L1128.4 556.72L1129.4 554.92L1130.4 553.70L1131.4 553.20L1132.4 553.34L1133.4 554.10L1134.4 555.34L1135.4 557.03L1136.4 559.24L1137.4 562.31L1138.4 566.23L1139.4 570.39L1140.4 573.78L1141.4 576.18L1142.4 577.88L1143.4 579.21L1144.4 580.05L1145.4 580.50L1146.4 580.71L1147.4 580.85L1148.4 580.96L1149.4 581.04L1150.4 581.09L1151.4 581.10L1152.4 581.09L1153.4 581.06L1154.4 581.01L1155.4 580.95L1156.4 580.88L1157.4 580.79L1158.4 580.66L1159.4 580.40L1160.4 579.91L1161.4 579.16L1162.4 578.14L1163.4 576.52L1164.4 574.07L1165.4 570.95L1166.4 567.79L1167.4 564.90L1168.4 562.38L1169.4 560.36L1170.4 558.95L1171.4 558.04L1172.4 557.40L1173.4 557.06L1174.4 557.14L1175.4 557.69L1176.4 558.61L1177.4 559.60L1178.4 560.31L1179.4 560.61L1180.4 560.56L1181.4 560.37L1182.4 560.16L1183.4 559.95L1184.4 559.80L1185.4 559.79L1186.4 560.01L1187.4 560.48L1188.4 561.14L1189.4 562.11L1190.4 563.52L1191.4 565.36L1192.4 567.29L1193.4 569.06L1194.4 570.60L1195.4 571.97L1196.4 573.10L1197.4 573.87L1198.4 574.31L1199.4 574.57L1200.4 574.78L1201.4 574.96L1202.4 575.10L1203.4 575.20L1204.4 575.26L1205.4 575.26L1206.4 575.19L1207.4 575.03L1208.4 574.80L1209.4 574.52L1210.4 574.22L1211.4 573.91L1212.4 573.65L1213.4 573.46L1214.4 573.39L1215.4 573.46L1216.4 573.66L1217.4 573.95L1218.4 574.29L1219.4 574.64L1220.4 574.95L1221.4 575.18L1222.4 575.25L1223.4 575.00L1224.4 574.34L1225.4 573.29L1226.4 572.02L1227.4 570.44L1228.4 568.49L1229.4 566.24L1230.4 564.12L1231.4 562.45L1232.4 561.22L1233.4 560.24L1234.4 559.39L1235.4 558.76L1236.4 558.49L1237.4 558.68L1238.4 559.35L1239.4 560.29L1240.4 561.29L1241.4 562.10L1242.4 562.57L1243.4 562.75L1244.4 562.75L1245.4 562.72L1246.4 562.68L1247.4 562.61L1248.4 562.50L1249.4 562.27L1250.4 561.82L1251.4 561.13L1252.4 560.16L1253.4 558.56L1254.4 556.10L1255.4 552.86L1256.4 549.19L1257.4 545.19L1258.4 541.05L1259.4 537.30L1260.4 534.60L1261.4 532.93L1262.4 531.95L1263.4 531.25L1264.4 530.75L1265.4 530.41L1266.4 530.18L1267.4 530.03L1268.4 529.94L1269.4 529.64L1270.4 529.07L1271.4 528.13L1272.4 527.01L1273.4 525.65L1274.4 523.94L1275.4 521.66L1276.4 517.83L1277.4 511.73L1278.4 504.02L1279.4 495.95L1280.4 488.98L1281.4 483.59L1282.4 479.82L1283.4 477.55L1284.4 476.81L1285.4 477.62L1286.4 479.76L1287.4 482.89L1288.4 487.13L1289.4 493.09L1290.4 501.79L1291.4 513.05L1292.4 525.92L1293.4 538.42L1294.4 548.82L1295.4 556.63L1296.4 561.93L1297.4 565.75L1298.4 568.03L1299.4 568.74L1300.4 568.15L1301.4 566.74L1302.4 564.78L1303.4 561.70L1304.4 557.02L1305.4 550.79L1306.4 543.91L1307.4 536.81L1308.4 529.87L1309.4 523.83L1310.4 519.24L1311.4 516.04L1312.4 513.85L1313.4 512.77L1314.4 512.99L1315.4 514.26L1316.4 516.05L1317.4 517.65L1318.4 518.81L1319.4 519.59L1320.4 520.16L1321.4 520.41L1322.4 519.98L1323.4 518.57L1324.4 516.12L1325.4 512.68L1326.4 507.86L1327.4 501.53L1328.4 494.11L1329.4 486.13L1330.4 477.81L1331.4 469.25L1332.4 461.12L1333.4 453.96L1334.4 447.84L1335.4 442.82L1336.4 439.06L1337.4 436.55L1338.4 435.06L1339.4 434.28L1340.4 434.26L1341.4 435.45L1342.4 438.61L1343.4 443.84L1344.4 450.67L1345.4 458.74L1346.4 467.72L1347.4 476.77L1348.4 485.15L1349.4 492.50L1350.4 498.35L1351.4 502.29L1352.4 504.39L1353.4 505.63L1354.4 505.97L1355.4 505.32L1356.4 503.53L1357.4 500.73L1358.4 496.61L1359.4 492.19L1360.4 488.95L1361.4 487.85L1362.4 487.42L1363.4 487.07L1364.4 486.67L1365.4 486.94L1366.4 487.66L1367.4 488.89L1368.4 490.83L1369.4 493.56L1370.4 497.07L1371.4 501.08L1372.4 505.27L1373.4 509.54L1374.4 513.93L1375.4 518.49L1376.4 523.07L1377.4 527.41L1378.4 531.34L1379.4 534.85L1380.4 538.06L1381.4 541.07L1382.4 543.92L1383.4 546.69L1384.4 549.44L1385.4 552.17L1386.4 554.76L1387.4 557.00L1388.4 558.77L1389.4 560.14L1390.4 561.29L1391.4 562.51L1392.4 563.76L1393.4 564.95L1394.4 565.91L1395.4 566.66L1396.4 567.27L1397.4 567.79L1398.4 568.28L1399.4 568.74L1400.4 569.17L1401.4 569.56L1402.4 569.92L1403.4 570.24L1404.4 570.47L1405.4 570.56L1406.4 570.51L1407.4 570.38L1408.4 570.29L1409.4 570.33L1410.4 570.54L1411.4 570.98L1412.4 571.64L1413.4 572.45L1414.4 573.26L1415.4 573.91L1416.4 574.36L1417.4 574.65L1418.4 574.86L1419.4 575.06L1420.4 575.24L1421.4 575.40L1422.4 575.54L1423.4 575.66L1424.4 575.75L1425.4 575.81L1426.4 575.83L1427.4 575.82L1428.4 575.79L1429.4 575.77L1430.4 575.74L1431.4 575.71L1432.4 575.69L1433.4 575.66L1434.4 575.64L1435.4 575.61L1436.4 575.58L1437.4 575.55L1438.4 575.51L1439.4 575.46L1440.4 575.41L1441.4 575.35L1442.4 575.29L1443.4 575.21L1444.4 575.13L1445.4 575.03L1446.4 574.82L1447.4 574.44L1448.4 573.87L1449.4 573.15L1450.4 572.31L1451.4 571.20L1452.4 569.77L1453.4 568.06L1454.4 566.36L1455.4 564.82L1456.4 563.43L1457.4 562.17L1458.4 561.19L1459.4 560.78L1460.4 561.09L1461.4 562.08L1462.4 563.49L1463.4 565.05L1464.4 566.73L1465.4 568.55L1466.4 570.45L1467.4 572.19L1468.4 573.65L1469.4 574.87L1470.4 575.95L1471.4 576.95L1472.4 577.81L1473.4 578.53L1474.4 579.06L1475.4 579.44L1476.4 579.73L1477.4 579.98L1478.4 580.21L1479.4 580.42L1480.4 580.60L1481.4 580.75L1482.4 580.88L1483.4 580.97L1484.4 581.03L1485.4 581.05L1486.4 581.06L1487.4 581.05L1488.4 581.04L1489.4 581.03L1490.4 581.01L1491.4 580.98L1492.4 580.95L1493.4 580.91L1494.4 580.86L1495.4 580.81L1496.4 580.76L1497.4 580.68L1498.4 580.56L1499.4 580.37L1500.4 580.09L1501.4 579.73L1502.4 579.32L1503.4 578.85L1504.4 578.36L1505.4 577.84L1506.4 577.28L1507.4 576.66L1508.4 575.93L1509.4 575.11L1510.4 574.22L1511.4 573.27L1512.4 572.27L1513.4 571.19L1514.4 569.98L1515.4 568.64L1516.4 567.29L1517.4 566.07L1518.4 565.03L1519.4 564.13L1520.4 563.35L1521.4 562.76L1522.4 562.50L1523.4 562.73L1524.4 563.48L1525.4 564.60L1526.4 565.84L1527.4 567.10L1528.4 568.39L1529.4 569.74L1530.4 571.08L1531.4 572.29L1532.4 573.36L1533.4 574.34L1534.4 575.26L1535.4 576.04L1536.4 576.57L1537.4 576.75L1538.4 576.57L1539.4 576.09L1540.4 575.42L1541.4 574.67L1542.4 573.92L1543.4 573.14L1544.4 572.33L1545.4 571.50L1546.4 570.73L1547.4 570.11L1548.4 569.62L1549.4 569.21L1550.4 568.83L1551.4 568.50L1552.4 568.23L1553.4 568.04L1554.4 567.93L1555.4 567.88L1556.4 567.87L1557.4 567.85L1558.4 567.83L1559.4 567.81L1560.4 567.79L1561.4 567.78L1562.4 567.76L1563.4 567.75L1564.4 567.74L1565.4 567.74L1566.4 567.76L1567.4 567.79L1568.4 567.85L1569.4 567.95L1570.4 568.08L1571.4 568.25L1572.4 568.43L1573.4 568.63L1574.4 568.85L1575.4 569.07L1576.4 569.30L1577.4 569.52L1578.4 569.73L1579.4 569.94L1580.4 570.15L1581.4 570.38L1582.4 570.62L1583.4 570.86L1584.4 571.12L1585.4 571.38L1586.4 571.64L1587.4 571.91L1588.4 572.17L1589.4 572.44L1590.4 572.70L1591.4 572.95L1592.4 573.20L1593.4 573.44L1594.4 573.67L1595.4 573.89L1596.4 574.10L1597.4 574.30L1598.4 574.51L1599.4 574.71L1600.4 574.92L1601.4 575.12L1602.4 575.32L1603.4 575.52L1604.4 575.71L1605.4 575.90L1606.4 576.07L1607.4 576.24L1608.4 576.39L1609.4 576.54L1610.4 576.67L1611.4 576.78L1612.4 576.88L1613.4 576.97L1614.4 577.04L1615.4 577.11L1616.4 577.16L1617.4 577.20L1618.4 577.23L1619.4 577.25L1620.4 577.27L1621.4 577.29L1622.4 577.30L1623.4 577.30L1624.4 577.29L1625.4 577.27L1626.4 577.23L1627.4 577.17L1628.4 577.08L1629.4 576.97L1630.4 576.84L1631.4 576.70L1632.4 576.56L1633.4 576.42L1634.4 576.28L1635.4 576.15L1636.4 576.04L1637.4 575.95L1638.4 575.88L1639.4 575.84L1640.4 575.82L1641.4 575.81L1642.4 575.82L1643.4 575.83L1644.4 575.85L1645.4 575.87L1646.4 575.90L1647.4 575.94L1648.4 575.98L1649.4 576.02L1650.4 576.06L1651.4 576.10L1652.4 576.14L1653.4 576.19L1654.4 576.23L1655.4 576.28L1656.4 576.34L1657.4 576.40L1658.4 576.46L1659.4 576.53L1660.4 576.60L1661.4 576.68L1662.4 576.76L1663.4 576.84L1664.4 576.93L1665.4 577.02L1666.4 577.08" fill="none" stroke="#b06ce0" stroke-width="8.44" stroke-linejoin="round" stroke-linecap="butt"/><path d="M150.4 694.77L151.4 694.77L152.4 694.77L153.4 694.76L154.4 694.76L155.4 694.75L156.4 694.75L157.4 694.75L158.4 694.74L159.4 694.74L160.4 694.73L161.4 694.73L162.4 694.72L163.4 694.72L164.4 694.72L165.4 694.71L166.4 694.71L167.4 694.70L168.4 694.70L169.4 694.69L170.4 694.69L171.4 694.69L172.4 694.68L173.4 694.68L174.4 694.67L175.4 694.67L176.4 694.66L177.4 694.66L178.4 694.66L179.4 694.65L180.4 694.65L181.4 694.64L182.4 694.64L183.4 694.63L184.4 694.63L185.4 694.63L186.4 694.62L187.4 694.62L188.4 694.61L189.4 694.61L190.4 694.60L191.4 694.60L192.4 694.60L193.4 694.59L194.4 694.59L195.4 694.58L196.4 694.58L197.4 694.57L198.4 694.57L199.4 694.57L200.4 694.56L201.4 694.56L202.4 694.55L203.4 694.55L204.4 694.54L205.4 694.54L206.4 694.54L207.4 694.53L208.4 694.53L209.4 694.52L210.4 694.52L211.4 694.51L212.4 694.51L213.4 694.50L214.4 694.50L215.4 694.49L216.4 694.48L217.4 694.48L218.4 694.47L219.4 694.46L220.4 694.46L221.4 694.45L222.4 694.44L223.4 694.43L224.4 694.42L225.4 694.42L226.4 694.41L227.4 694.40L228.4 694.39L229.4 694.38L230.4 694.36L231.4 694.35L232.4 694.34L233.4 694.33L234.4 694.32L235.4 694.30L236.4 694.29L237.4 694.28L238.4 694.26L239.4 694.25L240.4 694.24L241.4 694.22L242.4 694.21L243.4 694.19L244.4 694.16L245.4 694.12L246.4 694.07L247.4 693.99L248.4 693.90L249.4 693.81L250.4 693.70L251.4 693.58L252.4 693.46L253.4 693.34L254.4 693.22L255.4 693.10L256.4 692.98L257.4 692.87L258.4 692.75L259.4 692.61L260.4 692.47L261.4 692.32L262.4 692.18L263.4 692.05L264.4 691.95L265.4 691.89L266.4 691.87L267.4 691.87L268.4 691.90L269.4 691.95L270.4 692.00L271.4 692.05L272.4 692.09L273.4 692.12L274.4 692.11L275.4 692.02L276.4 691.81L277.4 691.50L278.4 691.11L279.4 690.70L280.4 690.28L281.4 689.89L282.4 689.48L283.4 689.05L284.4 688.59L285.4 688.17L286.4 687.81L287.4 687.57L288.4 687.49L289.4 687.58L290.4 687.82L291.4 688.14L292.4 688.49L293.4 688.82L294.4 689.13L295.4 689.43L296.4 689.70L297.4 689.89L298.4 689.95L299.4 689.90L300.4 689.77L301.4 689.58L302.4 689.37L303.4 689.12L304.4 688.79L305.4 688.40L306.4 687.98L307.4 687.63L308.4 687.43L309.4 687.41L310.4 687.55L311.4 687.78L312.4 688.08L313.4 688.39L314.4 688.71L315.4 689.03L316.4 689.39L317.4 689.76L318.4 690.12L319.4 690.41L320.4 690.60L321.4 690.71L322.4 690.77L323.4 690.82L324.4 690.87L325.4 690.90L326.4 690.93L327.4 690.94L328.4 690.94L329.4 690.90L330.4 690.84L331.4 690.75L332.4 690.67L333.4 690.64L334.4 690.68L335.4 690.80L336.4 691.00L337.4 691.22L338.4 691.45L339.4 691.66L340.4 691.89L341.4 692.11L342.4 692.30L343.4 692.42L344.4 692.45L345.4 692.42L346.4 692.34L347.4 692.24L348.4 692.14L349.4 692.03L350.4 691.93L351.4 691.86L352.4 691.83L353.4 691.87L354.4 692.00L355.4 692.20L356.4 692.42L357.4 692.64L358.4 692.83L359.4 693.02L360.4 693.21L361.4 693.40L362.4 693.57L363.4 693.71L364.4 693.81L365.4 693.89L366.4 693.95L367.4 694.01L368.4 694.06L369.4 694.11L370.4 694.15L371.4 694.20L372.4 694.23L373.4 694.27L374.4 694.30L375.4 694.33L376.4 694.35L377.4 694.37L378.4 694.39L379.4 694.40L380.4 694.41L381.4 694.42L382.4 694.42L383.4 694.42L384.4 694.42L385.4 694.42L386.4 694.42L387.4 694.42L388.4 694.42L389.4 694.42L390.4 694.42L391.4 694.42L392.4 694.42L393.4 694.42L394.4 694.42L395.4 694.42L396.4 694.41L397.4 694.41L398.4 694.41L399.4 694.41L400.4 694.41L401.4 694.41L402.4 694.40L403.4 694.40L404.4 694.40L405.4 694.40L406.4 694.39L407.4 694.39L408.4 694.39L409.4 694.39L410.4 694.38L411.4 694.38L412.4 694.38L413.4 694.38L414.4 694.37L415.4 694.37L416.4 694.37L417.4 694.36L418.4 694.36L419.4 694.36L420.4 694.36L421.4 694.35L422.4 694.35L423.4 694.35L424.4 694.34L425.4 694.34L426.4 694.34L427.4 694.33L428.4 694.33L429.4 694.33L430.4 694.33L431.4 694.32L432.4 694.32L433.4 694.32L434.4 694.31L435.4 694.31L436.4 694.31L437.4 694.31L438.4 694.30L439.4 694.30L440.4 694.30L441.4 694.31L442.4 694.31L443.4 694.31L444.4 694.32L445.4 694.32L446.4 694.33L447.4 694.33L448.4 694.34L449.4 694.34L450.4 694.34L451.4 694.35L452.4 694.35L453.4 694.36L454.4 694.36L455.4 694.37L456.4 694.37L457.4 694.37L458.4 694.38L459.4 694.38L460.4 694.39L461.4 694.39L462.4 694.40L463.4 694.40L464.4 694.40L465.4 694.41L466.4 694.41L467.4 694.42L468.4 694.42L469.4 694.43L470.4 694.43L471.4 694.43L472.4 694.44L473.4 694.44L474.4 694.45L475.4 694.45L476.4 694.45L477.4 694.46L478.4 694.46L479.4 694.47L480.4 694.47L481.4 694.48L482.4 694.48L483.4 694.48L484.4 694.49L485.4 694.49L486.4 694.50L487.4 694.50L488.4 694.51L489.4 694.51L490.4 694.51L491.4 694.52L492.4 694.52L493.4 694.53L494.4 694.53L495.4 694.53L496.4 694.54L497.4 694.54L498.4 694.55L499.4 694.55L500.4 694.55L501.4 694.56L502.4 694.56L503.4 694.57L504.4 694.57L505.4 694.58L506.4 694.58L507.4 694.58L508.4 694.59L509.4 694.59L510.4 694.60L511.4 694.60L512.4 694.60L513.4 694.61L514.4 694.61L515.4 694.62L516.4 694.62L517.4 694.62L518.4 694.63L519.4 694.63L520.4 694.64L521.4 694.64L522.4 694.64L523.4 694.65L524.4 694.65L525.4 694.66L526.4 694.66L527.4 694.67L528.4 694.67L529.4 694.67L530.4 694.68L531.4 694.68L532.4 694.69L533.4 694.69L534.4 694.69L535.4 694.70L536.4 694.70L537.4 694.71L538.4 694.71L539.4 694.71L540.4 694.72L541.4 694.72L542.4 694.73L543.4 694.73L544.4 694.73L545.4 694.74L546.4 694.74L547.4 694.75L548.4 694.75L549.4 694.75L550.4 694.76L551.4 694.76L552.4 694.77L553.4 694.77L554.4 694.77L555.4 694.78L556.4 694.78L557.4 694.79L558.4 694.79L559.4 694.80L560.4 694.80L561.4 694.80L562.4 694.81L563.4 694.81L564.4 694.82L565.4 694.82L566.4 694.82L567.4 694.83L568.4 694.83L569.4 694.84L570.4 694.84L571.4 694.84L572.4 694.85L573.4 694.85L574.4 694.86L575.4 694.86L576.4 694.86L577.4 694.87L578.4 694.87L579.4 694.88L580.4 694.88L581.4 694.88L582.4 694.89L583.4 694.89L584.4 694.90L585.4 694.90L586.4 694.91L587.4 694.91L588.4 694.91L589.4 694.92L590.4 694.92L591.4 694.93L592.4 694.93L593.4 694.93L594.4 694.94L595.4 694.94L596.4 694.95L597.4 694.95L598.4 694.95L599.4 694.96L600.4 694.96L601.4 694.97L602.4 694.97L603.4 694.98L604.4 694.98L605.4 694.98L606.4 694.99L607.4 694.99L608.4 695.00L609.4 695.00L610.4 695.01L611.4 695.01L612.4 695.02L613.4 695.02L614.4 695.03L615.4 695.03L616.4 695.03L617.4 695.04L618.4 695.04L619.4 695.05L620.4 695.05L621.4 695.06L622.4 695.06L623.4 695.07L624.4 695.07L625.4 695.08L626.4 695.08L627.4 695.09L628.4 695.09L629.4 695.10L630.4 695.10L631.4 695.11L632.4 695.11L633.4 695.12L634.4 695.12L635.4 695.13L636.4 695.13L637.4 695.14L638.4 695.14L639.4 695.15L640.4 695.15L641.4 695.16L642.4 695.16L643.4 695.17L644.4 695.17L645.4 695.18L646.4 695.18L647.4 695.19L648.4 695.19L649.4 695.20L650.4 695.21L651.4 695.21L652.4 695.22L653.4 695.22L654.4 695.23L655.4 695.23L656.4 695.24L657.4 695.24L658.4 695.25L659.4 695.25L660.4 695.26L661.4 695.26L662.4 695.27L663.4 695.27L664.4 695.28L665.4 695.28L666.4 695.29L667.4 695.29L668.4 695.30L669.4 695.30L670.4 695.31L671.4 695.31L672.4 695.32L673.4 695.32L674.4 695.33L675.4 695.33L676.4 695.34L677.4 695.34L678.4 695.35L679.4 695.35L680.4 695.36L681.4 695.36L682.4 695.37L683.4 695.37L684.4 695.37L685.4 695.38L686.4 695.38L687.4 695.39L688.4 695.39L689.4 695.40L690.4 695.40L691.4 695.41L692.4 695.41L693.4 695.41L694.4 695.42L695.4 695.42L696.4 695.43L697.4 695.43L698.4 695.44L699.4 695.44L700.4 695.44L701.4 695.45L702.4 695.45L703.4 695.46L704.4 695.46L705.4 695.46L706.4 695.47L707.4 695.47L708.4 695.47L709.4 695.48L710.4 695.48L711.4 695.48L712.4 695.49L713.4 695.49L714.4 695.49L715.4 695.50L716.4 695.50L717.4 695.50L718.4 695.50L719.4 695.51L720.4 695.51L721.4 695.51L722.4 695.52L723.4 695.52L724.4 695.52L725.4 695.52L726.4 695.52L727.4 695.52L728.4 695.51L729.4 695.52L730.4 695.58L731.4 695.73L732.4 696.03L733.4 696.47L734.4 696.89L735.4 697.03L736.4 696.80L737.4 696.35L738.4 695.92L739.4 695.63L740.4 695.49L741.4 695.44L742.4 695.42L743.4 695.41L744.4 695.41L745.4 695.40L746.4 695.39L747.4 695.38L748.4 695.38L749.4 695.37L750.4 695.36L751.4 695.35L752.4 695.34L753.4 695.34L754.4 695.33L755.4 695.32L756.4 695.31L757.4 695.30L758.4 695.30L759.4 695.29L760.4 695.28L761.4 695.27L762.4 695.26L763.4 695.25L764.4 695.24L765.4 695.23L766.4 695.22L767.4 695.22L768.4 695.21L769.4 695.20L770.4 695.19L771.4 695.18L772.4 695.17L773.4 695.16L774.4 695.15L775.4 695.14L776.4 695.13L777.4 695.12L778.4 695.11L779.4 695.10L780.4 695.09L781.4 695.08L782.4 695.07L783.4 695.06L784.4 695.05L785.4 695.04L786.4 695.03L787.4 695.02L788.4 695.01L789.4 695.01L790.4 695.00L791.4 694.99L792.4 694.98L793.4 694.97L794.4 694.96L795.4 694.95L796.4 694.94L797.4 694.93L798.4 694.92L799.4 694.91L800.4 694.90L801.4 694.89L802.4 694.88L803.4 694.87L804.4 694.86L805.4 694.85L806.4 694.84L807.4 694.83L808.4 694.82L809.4 694.80L810.4 694.79L811.4 694.78L812.4 694.77L813.4 694.76L814.4 694.75L815.4 694.74L816.4 694.73L817.4 694.72L818.4 694.70L819.4 694.69L820.4 694.68L821.4 694.67L822.4 694.66L823.4 694.65L824.4 694.63L825.4 694.62L826.4 694.61L827.4 694.60L828.4 694.59L829.4 694.57L830.4 694.56L831.4 694.55L832.4 694.54L833.4 694.53L834.4 694.51L835.4 694.50L836.4 694.49L837.4 694.48L838.4 694.46L839.4 694.45L840.4 694.44L841.4 694.43L842.4 694.42L843.4 694.40L844.4 694.39L845.4 694.38L846.4 694.37L847.4 694.35L848.4 694.34L849.4 694.33L850.4 694.32L851.4 694.30L852.4 694.29L853.4 694.28L854.4 694.27L855.4 694.25L856.4 694.24L857.4 694.23L858.4 694.22L859.4 694.21L860.4 694.21L861.4 694.22L862.4 694.23L863.4 694.25L864.4 694.27L865.4 694.28L866.4 694.30L867.4 694.32L868.4 694.33L869.4 694.35L870.4 694.37L871.4 694.38L872.4 694.40L873.4 694.42L874.4 694.44L875.4 694.45L876.4 694.47L877.4 694.49L878.4 694.51L879.4 694.52L880.4 694.54L881.4 694.56L882.4 694.58L883.4 694.59L884.4 694.61L885.4 694.63L886.4 694.64L887.4 694.66L888.4 694.68L889.4 694.69L890.4 694.71L891.4 694.73L892.4 694.74L893.4 694.76L894.4 694.77L895.4 694.78L896.4 694.80L897.4 694.81L898.4 694.83L899.4 694.84L900.4 694.85L901.4 694.86L902.4 694.87L903.4 694.88L904.4 694.89L905.4 694.89L906.4 694.88L907.4 694.86L908.4 694.84L909.4 694.82L910.4 694.78L911.4 694.74L912.4 694.70L913.4 694.65L914.4 694.60L915.4 694.54L916.4 694.47L917.4 694.41L918.4 694.34L919.4 694.27L920.4 694.19L921.4 694.11L922.4 694.03L923.4 693.95L924.4 693.86L925.4 693.77L926.4 693.69L927.4 693.60L928.4 693.51L929.4 693.42L930.4 693.33L931.4 693.23L932.4 693.13L933.4 693.01L934.4 692.88L935.4 692.73L936.4 692.55L937.4 692.34L938.4 692.07L939.4 691.71L940.4 691.25L941.4 690.69L942.4 690.02L943.4 689.25L944.4 688.38L945.4 687.32L946.4 685.92L947.4 684.12L948.4 681.93L949.4 679.47L950.4 676.81L951.4 673.91L952.4 670.70L953.4 667.10L954.4 663.13L955.4 658.85L956.4 654.10L957.4 648.72L958.4 642.74L959.4 636.55L960.4 630.69L961.4 625.36L962.4 620.77L963.4 617.02L964.4 614.44L965.4 613.09L966.4 612.99L967.4 614.15L968.4 616.49L969.4 619.96L970.4 624.73L971.4 631.97L972.4 641.33L973.4 650.90L974.4 658.80L975.4 664.70L976.4 669.58L977.4 673.50L978.4 676.57L979.4 679.03L980.4 681.13L981.4 682.96L982.4 684.53L983.4 685.86L984.4 686.99L985.4 688.00L986.4 688.95L987.4 689.84L988.4 690.66L989.4 691.39L990.4 691.98L991.4 692.43L992.4 692.70L993.4 692.83L994.4 692.87L995.4 692.89L996.4 692.92L997.4 692.94L998.4 692.96L999.4 692.98L1000.4 692.99L1001.4 692.98L1002.4 692.97L1003.4 692.96L1004.4 692.95L1005.4 692.94L1006.4 692.93L1007.4 692.92L1008.4 692.90L1009.4 692.87L1010.4 692.83L1011.4 692.79L1012.4 692.74L1013.4 692.68L1014.4 692.63L1015.4 692.57L1016.4 692.52L1017.4 692.47L1018.4 692.42L1019.4 692.37L1020.4 692.33L1021.4 692.29L1022.4 692.26L1023.4 692.24L1024.4 692.23L1025.4 692.22L1026.4 692.21L1027.4 692.20L1028.4 692.19L1029.4 692.19L1030.4 692.19L1031.4 692.19L1032.4 692.20L1033.4 692.21L1034.4 692.22L1035.4 692.25L1036.4 692.28L1037.4 692.31L1038.4 692.35L1039.4 692.38L1040.4 692.40L1041.4 692.40L1042.4 692.39L1043.4 692.38L1044.4 692.37L1045.4 692.37L1046.4 692.36L1047.4 692.36L1048.4 692.36L1049.4 692.37L1050.4 692.37L1051.4 692.38L1052.4 692.39L1053.4 692.40L1054.4 692.43L1055.4 692.48L1056.4 692.55L1057.4 692.65L1058.4 692.76L1059.4 692.89L1060.4 693.03L1061.4 693.17L1062.4 693.32L1063.4 693.46L1064.4 693.60L1065.4 693.72L1066.4 693.82L1067.4 693.91L1068.4 693.98L1069.4 694.04L1070.4 694.11L1071.4 694.17L1072.4 694.23L1073.4 694.29L1074.4 694.35L1075.4 694.41L1076.4 694.47L1077.4 694.52L1078.4 694.56L1079.4 694.60L1080.4 694.64L1081.4 694.67L1082.4 694.70L1083.4 694.71L1084.4 694.72L1085.4 694.73L1086.4 694.73L1087.4 694.72L1088.4 694.71L1089.4 694.70L1090.4 694.69L1091.4 694.68L1092.4 694.66L1093.4 694.64L1094.4 694.62L1095.4 694.60L1096.4 694.57L1097.4 694.55L1098.4 694.52L1099.4 694.50L1100.4 694.48L1101.4 694.46L1102.4 694.45L1103.4 694.44L1104.4 694.42L1105.4 694.40L1106.4 694.37L1107.4 694.34L1108.4 694.30L1109.4 694.24L1110.4 694.15L1111.4 694.04L1112.4 693.89L1113.4 693.70L1114.4 693.48L1115.4 693.21L1116.4 692.83L1117.4 692.27L1118.4 691.48L1119.4 690.51L1120.4 689.38L1121.4 688.10L1122.4 686.54L1123.4 684.62L1124.4 682.37L1125.4 680.02L1126.4 677.80L1127.4 675.73L1128.4 673.89L1129.4 672.39L1130.4 671.31L1131.4 670.84L1132.4 670.93L1133.4 671.54L1134.4 672.54L1135.4 673.89L1136.4 675.65L1137.4 678.09L1138.4 681.20L1139.4 684.50L1140.4 687.20L1141.4 689.11L1142.4 690.49L1143.4 691.56L1144.4 692.26L1145.4 692.65L1146.4 692.84L1147.4 692.98L1148.4 693.10L1149.4 693.20L1150.4 693.27L1151.4 693.31L1152.4 693.34L1153.4 693.34L1154.4 693.32L1155.4 693.28L1156.4 693.22L1157.4 693.14L1158.4 693.04L1159.4 692.83L1160.4 692.44L1161.4 691.84L1162.4 691.03L1163.4 689.73L1164.4 687.78L1165.4 685.29L1166.4 682.78L1167.4 680.47L1168.4 678.45L1169.4 676.83L1170.4 675.70L1171.4 674.96L1172.4 674.44L1173.4 674.16L1174.4 674.16L1175.4 674.49L1176.4 675.07L1177.4 675.72L1178.4 676.16L1179.4 676.25L1180.4 676.07L1181.4 675.77L1182.4 675.44L1183.4 675.13L1184.4 674.85L1185.4 674.71L1186.4 674.79L1187.4 675.10L1188.4 675.59L1189.4 676.36L1190.4 677.53L1191.4 679.11L1192.4 680.79L1193.4 682.33L1194.4 683.68L1195.4 684.89L1196.4 685.89L1197.4 686.56L1198.4 686.94L1199.4 687.15L1200.4 687.32L1201.4 687.46L1202.4 687.56L1203.4 687.63L1204.4 687.65L1205.4 687.63L1206.4 687.53L1207.4 687.35L1208.4 687.10L1209.4 686.81L1210.4 686.53L1211.4 686.27L1212.4 686.05L1213.4 685.92L1214.4 685.90L1215.4 686.01L1216.4 686.23L1217.4 686.55L1218.4 686.90L1219.4 687.26L1220.4 687.59L1221.4 687.83L1222.4 687.92L1223.4 687.72L1224.4 687.16L1225.4 686.27L1226.4 685.17L1227.4 683.83L1228.4 682.18L1229.4 680.28L1230.4 678.51L1231.4 677.15L1232.4 676.18L1233.4 675.43L1234.4 674.81L1235.4 674.37L1236.4 674.15L1237.4 674.26L1238.4 674.69L1239.4 675.37L1240.4 676.10L1241.4 676.68L1242.4 676.97L1243.4 677.00L1244.4 676.89L1245.4 676.75L1246.4 676.60L1247.4 676.42L1248.4 676.20L1249.4 675.94L1250.4 675.55L1251.4 675.01L1252.4 674.23L1253.4 672.89L1254.4 670.81L1255.4 668.05L1256.4 664.95L1257.4 661.60L1258.4 658.17L1259.4 655.12L1260.4 653.02L1261.4 651.84L1262.4 651.26L1263.4 650.94L1264.4 650.81L1265.4 650.81L1266.4 650.91L1267.4 651.08L1268.4 651.31L1269.4 651.35L1270.4 651.12L1271.4 650.56L1272.4 649.85L1273.4 648.96L1274.4 647.79L1275.4 646.18L1276.4 643.37L1277.4 638.81L1278.4 633.02L1279.4 627.00L1280.4 621.88L1281.4 618.00L1282.4 615.40L1283.4 613.97L1284.4 613.39L1285.4 613.68L1286.4 614.69L1287.4 616.48L1288.4 619.19L1289.4 623.31L1290.4 629.70L1291.4 638.26L1292.4 648.27L1293.4 658.13L1294.4 666.42L1295.4 672.68L1296.4 676.96L1297.4 680.05L1298.4 681.89L1299.4 682.44L1300.4 681.96L1301.4 680.84L1302.4 679.27L1303.4 676.79L1304.4 673.02L1305.4 668.02L1306.4 662.56L1307.4 657.00L1308.4 651.65L1309.4 647.10L1310.4 643.79L1311.4 641.63L1312.4 640.30L1313.4 639.74L1314.4 640.09L1315.4 641.13L1316.4 642.57L1317.4 643.85L1318.4 644.80L1319.4 645.45L1320.4 645.93L1321.4 646.19L1322.4 645.99L1323.4 645.10L1324.4 643.47L1325.4 641.10L1326.4 637.72L1327.4 633.24L1328.4 627.98L1329.4 622.36L1330.4 616.54L1331.4 610.60L1332.4 605.03L1333.4 600.22L1334.4 596.21L1335.4 593.03L1336.4 590.80L1337.4 589.48L1338.4 588.90L1339.4 588.47L1340.4 588.22L1341.4 588.50L1342.4 590.20L1343.4 593.44L1344.4 597.90L1345.4 603.32L1346.4 609.48L1347.4 615.75L1348.4 621.60L1349.4 626.74L1350.4 630.81L1351.4 633.49L1352.4 634.80L1353.4 635.59L1354.4 635.83L1355.4 635.43L1356.4 634.18L1357.4 632.16L1358.4 629.18L1359.4 625.97L1360.4 623.67L1361.4 622.99L1362.4 622.75L1363.4 622.52L1364.4 622.18L1365.4 622.35L1366.4 622.85L1367.4 623.74L1368.4 625.16L1369.4 627.18L1370.4 629.79L1371.4 632.78L1372.4 635.90L1373.4 639.09L1374.4 642.37L1375.4 645.78L1376.4 649.21L1377.4 652.46L1378.4 655.40L1379.4 658.03L1380.4 660.44L1381.4 662.70L1382.4 664.84L1383.4 666.91L1384.4 668.97L1385.4 671.03L1386.4 672.97L1387.4 674.66L1388.4 675.99L1389.4 677.01L1390.4 677.88L1391.4 678.77L1392.4 679.66L1393.4 680.50L1394.4 681.18L1395.4 681.69L1396.4 682.09L1397.4 682.43L1398.4 682.75L1399.4 683.05L1400.4 683.32L1401.4 683.57L1402.4 683.79L1403.4 683.98L1404.4 684.10L1405.4 684.10L1406.4 683.97L1407.4 683.78L1408.4 683.62L1409.4 683.56L1410.4 683.65L1411.4 683.94L1412.4 684.42L1413.4 685.06L1414.4 685.70L1415.4 686.22L1416.4 686.55L1417.4 686.74L1418.4 686.88L1419.4 687.00L1420.4 687.10L1421.4 687.19L1422.4 687.26L1423.4 687.31L1424.4 687.33L1425.4 687.34L1426.4 687.34L1427.4 687.33L1428.4 687.33L1429.4 687.32L1430.4 687.32L1431.4 687.31L1432.4 687.31L1433.4 687.30L1434.4 687.30L1435.4 687.29L1436.4 687.28L1437.4 687.27L1438.4 687.25L1439.4 687.22L1440.4 687.19L1441.4 687.16L1442.4 687.11L1443.4 687.07L1444.4 687.01L1445.4 686.93L1446.4 686.75L1447.4 686.42L1448.4 685.90L1449.4 685.26L1450.4 684.49L1451.4 683.50L1452.4 682.20L1453.4 680.66L1454.4 679.15L1455.4 677.79L1456.4 676.57L1457.4 675.48L1458.4 674.65L1459.4 674.31L1460.4 674.61L1461.4 675.49L1462.4 676.75L1463.4 678.15L1464.4 679.66L1465.4 681.30L1466.4 683.01L1467.4 684.58L1468.4 685.90L1469.4 686.99L1470.4 687.97L1471.4 688.87L1472.4 689.65L1473.4 690.29L1474.4 690.78L1475.4 691.12L1476.4 691.38L1477.4 691.61L1478.4 691.81L1479.4 692.00L1480.4 692.16L1481.4 692.30L1482.4 692.41L1483.4 692.49L1484.4 692.54L1485.4 692.56L1486.4 692.56L1487.4 692.56L1488.4 692.55L1489.4 692.53L1490.4 692.52L1491.4 692.50L1492.4 692.47L1493.4 692.44L1494.4 692.40L1495.4 692.36L1496.4 692.31L1497.4 692.25L1498.4 692.14L1499.4 691.96L1500.4 691.71L1501.4 691.38L1502.4 691.00L1503.4 690.57L1504.4 690.12L1505.4 689.64L1506.4 689.13L1507.4 688.55L1508.4 687.87L1509.4 687.11L1510.4 686.28L1511.4 685.40L1512.4 684.47L1513.4 683.46L1514.4 682.33L1515.4 681.08L1516.4 679.82L1517.4 678.68L1518.4 677.70L1519.4 676.85L1520.4 676.11L1521.4 675.55L1522.4 675.32L1523.4 675.57L1524.4 676.30L1525.4 677.39L1526.4 678.58L1527.4 679.79L1528.4 681.01L1529.4 682.29L1530.4 683.54L1531.4 684.67L1532.4 685.68L1533.4 686.59L1534.4 687.43L1535.4 688.16L1536.4 688.65L1537.4 688.83L1538.4 688.68L1539.4 688.26L1540.4 687.66L1541.4 687.01L1542.4 686.35L1543.4 685.68L1544.4 684.97L1545.4 684.25L1546.4 683.60L1547.4 683.08L1548.4 682.67L1549.4 682.33L1550.4 682.02L1551.4 681.76L1552.4 681.55L1553.4 681.41L1554.4 681.34L1555.4 681.32L1556.4 681.33L1557.4 681.34L1558.4 681.35L1559.4 681.36L1560.4 681.37L1561.4 681.38L1562.4 681.39L1563.4 681.40L1564.4 681.41L1565.4 681.42L1566.4 681.43L1567.4 681.46L1568.4 681.51L1569.4 681.59L1570.4 681.71L1571.4 681.85L1572.4 682.00L1573.4 682.18L1574.4 682.36L1575.4 682.55L1576.4 682.74L1577.4 682.93L1578.4 683.11L1579.4 683.29L1580.4 683.47L1581.4 683.66L1582.4 683.86L1583.4 684.07L1584.4 684.29L1585.4 684.51L1586.4 684.73L1587.4 684.96L1588.4 685.18L1589.4 685.41L1590.4 685.63L1591.4 685.85L1592.4 686.06L1593.4 686.26L1594.4 686.46L1595.4 686.64L1596.4 686.82L1597.4 686.99L1598.4 687.17L1599.4 687.34L1600.4 687.52L1601.4 687.69L1602.4 687.86L1603.4 688.03L1604.4 688.19L1605.4 688.35L1606.4 688.50L1607.4 688.64L1608.4 688.77L1609.4 688.90L1610.4 689.01L1611.4 689.11L1612.4 689.19L1613.4 689.26L1614.4 689.33L1615.4 689.38L1616.4 689.43L1617.4 689.46L1618.4 689.49L1619.4 689.51L1620.4 689.53L1621.4 689.54L1622.4 689.55L1623.4 689.55L1624.4 689.54L1625.4 689.52L1626.4 689.49L1627.4 689.44L1628.4 689.36L1629.4 689.27L1630.4 689.16L1631.4 689.04L1632.4 688.92L1633.4 688.80L1634.4 688.69L1635.4 688.58L1636.4 688.48L1637.4 688.41L1638.4 688.35L1639.4 688.32L1640.4 688.30L1641.4 688.29L1642.4 688.30L1643.4 688.31L1644.4 688.32L1645.4 688.34L1646.4 688.37L1647.4 688.40L1648.4 688.43L1649.4 688.46L1650.4 688.50L1651.4 688.54L1652.4 688.57L1653.4 688.61L1654.4 688.65L1655.4 688.69L1656.4 688.73L1657.4 688.78L1658.4 688.84L1659.4 688.90L1660.4 688.96L1661.4 689.02L1662.4 689.09L1663.4 689.16L1664.4 689.23L1665.4 689.31L1666.4 689.36" fill="none" stroke="#2db06b" stroke-width="8.44" stroke-linejoin="round" stroke-linecap="butt"/><path d="M150.4 771.96L151.4 771.96L152.4 771.97L153.4 771.97L154.4 771.97L155.4 771.97L156.4 771.98L157.4 771.98L158.4 771.98L159.4 771.98L160.4 771.99L161.4 771.99L162.4 771.99L163.4 771.99L164.4 772.00L165.4 772.00L166.4 772.00L167.4 772.01L168.4 772.01L169.4 772.01L170.4 772.01L171.4 772.02L172.4 772.02L173.4 772.02L174.4 772.02L175.4 772.03L176.4 772.03L177.4 772.03L178.4 772.04L179.4 772.04L180.4 772.04L181.4 772.04L182.4 772.05L183.4 772.05L184.4 772.05L185.4 772.05L186.4 772.06L187.4 772.06L188.4 772.06L189.4 772.06L190.4 772.07L191.4 772.07L192.4 772.07L193.4 772.08L194.4 772.08L195.4 772.08L196.4 772.08L197.4 772.09L198.4 772.09L199.4 772.09L200.4 772.09L201.4 772.10L202.4 772.10L203.4 772.10L204.4 772.11L205.4 772.11L206.4 772.11L207.4 772.11L208.4 772.12L209.4 772.12L210.4 772.12L211.4 772.12L212.4 772.13L213.4 772.13L214.4 772.13L215.4 772.13L216.4 772.13L217.4 772.14L218.4 772.14L219.4 772.14L220.4 772.14L221.4 772.14L222.4 772.14L223.4 772.14L224.4 772.14L225.4 772.14L226.4 772.14L227.4 772.14L228.4 772.14L229.4 772.14L230.4 772.14L231.4 772.14L232.4 772.14L233.4 772.14L234.4 772.14L235.4 772.13L236.4 772.13L237.4 772.13L238.4 772.13L239.4 772.13L240.4 772.12L241.4 772.12L242.4 772.12L243.4 772.11L244.4 772.11L245.4 772.09L246.4 772.07L247.4 772.03L248.4 772.00L249.4 771.95L250.4 771.90L251.4 771.85L252.4 771.79L253.4 771.73L254.4 771.68L255.4 771.62L256.4 771.57L257.4 771.51L258.4 771.46L259.4 771.39L260.4 771.33L261.4 771.26L262.4 771.19L263.4 771.13L264.4 771.08L265.4 771.06L266.4 771.05L267.4 771.06L268.4 771.08L269.4 771.11L270.4 771.14L271.4 771.17L272.4 771.19L273.4 771.21L274.4 771.21L275.4 771.17L276.4 771.07L277.4 770.92L278.4 770.73L279.4 770.52L280.4 770.32L281.4 770.12L282.4 769.92L283.4 769.71L284.4 769.48L285.4 769.27L286.4 769.09L287.4 768.98L288.4 768.94L289.4 768.99L290.4 769.12L291.4 769.29L292.4 769.47L293.4 769.64L294.4 769.80L295.4 769.96L296.4 770.10L297.4 770.20L298.4 770.24L299.4 770.21L300.4 770.15L301.4 770.06L302.4 769.96L303.4 769.84L304.4 769.68L305.4 769.48L306.4 769.27L307.4 769.10L308.4 769.01L309.4 769.00L310.4 769.08L311.4 769.20L312.4 769.35L313.4 769.52L314.4 769.68L315.4 769.85L316.4 770.04L317.4 770.23L318.4 770.42L319.4 770.57L320.4 770.67L321.4 770.73L322.4 770.77L323.4 770.80L324.4 770.83L325.4 770.85L326.4 770.87L327.4 770.88L328.4 770.88L329.4 770.87L330.4 770.84L331.4 770.80L332.4 770.77L333.4 770.75L334.4 770.78L335.4 770.85L336.4 770.95L337.4 771.07L338.4 771.19L339.4 771.30L340.4 771.42L341.4 771.54L342.4 771.64L343.4 771.70L344.4 771.73L345.4 771.71L346.4 771.68L347.4 771.64L348.4 771.59L349.4 771.54L350.4 771.49L351.4 771.46L352.4 771.45L353.4 771.48L354.4 771.54L355.4 771.65L356.4 771.77L357.4 771.88L358.4 771.99L359.4 772.09L360.4 772.19L361.4 772.29L362.4 772.38L363.4 772.46L364.4 772.51L365.4 772.56L366.4 772.59L367.4 772.63L368.4 772.66L369.4 772.69L370.4 772.71L371.4 772.74L372.4 772.76L373.4 772.79L374.4 772.81L375.4 772.83L376.4 772.84L377.4 772.86L378.4 772.87L379.4 772.88L380.4 772.89L381.4 772.90L382.4 772.91L383.4 772.91L384.4 772.92L385.4 772.92L386.4 772.93L387.4 772.93L388.4 772.94L389.4 772.94L390.4 772.95L391.4 772.95L392.4 772.96L393.4 772.96L394.4 772.96L395.4 772.97L396.4 772.97L397.4 772.98L398.4 772.98L399.4 772.98L400.4 772.99L401.4 772.99L402.4 773.00L403.4 773.00L404.4 773.00L405.4 773.01L406.4 773.01L407.4 773.01L408.4 773.02L409.4 773.02L410.4 773.03L411.4 773.03L412.4 773.03L413.4 773.04L414.4 773.04L415.4 773.04L416.4 773.05L417.4 773.05L418.4 773.05L419.4 773.06L420.4 773.06L421.4 773.06L422.4 773.07L423.4 773.07L424.4 773.07L425.4 773.08L426.4 773.08L427.4 773.08L428.4 773.09L429.4 773.09L430.4 773.09L431.4 773.10L432.4 773.10L433.4 773.10L434.4 773.11L435.4 773.11L436.4 773.11L437.4 773.12L438.4 773.12L439.4 773.12L440.4 773.12L441.4 773.12L442.4 773.12L443.4 773.12L444.4 773.11L445.4 773.11L446.4 773.11L447.4 773.10L448.4 773.10L449.4 773.10L450.4 773.09L451.4 773.09L452.4 773.09L453.4 773.08L454.4 773.08L455.4 773.08L456.4 773.07L457.4 773.07L458.4 773.07L459.4 773.06L460.4 773.06L461.4 773.06L462.4 773.06L463.4 773.05L464.4 773.05L465.4 773.05L466.4 773.04L467.4 773.04L468.4 773.04L469.4 773.03L470.4 773.03L471.4 773.03L472.4 773.02L473.4 773.02L474.4 773.02L475.4 773.01L476.4 773.01L477.4 773.01L478.4 773.00L479.4 773.00L480.4 773.00L481.4 772.99L482.4 772.99L483.4 772.99L484.4 772.98L485.4 772.98L486.4 772.98L487.4 772.97L488.4 772.97L489.4 772.97L490.4 772.96L491.4 772.96L492.4 772.96L493.4 772.95L494.4 772.95L495.4 772.95L496.4 772.95L497.4 772.94L498.4 772.94L499.4 772.94L500.4 772.93L501.4 772.93L502.4 772.93L503.4 772.92L504.4 772.92L505.4 772.92L506.4 772.91L507.4 772.91L508.4 772.91L509.4 772.90L510.4 772.90L511.4 772.90L512.4 772.89L513.4 772.89L514.4 772.89L515.4 772.88L516.4 772.88L517.4 772.88L518.4 772.87L519.4 772.87L520.4 772.87L521.4 772.86L522.4 772.86L523.4 772.86L524.4 772.85L525.4 772.85L526.4 772.85L527.4 772.84L528.4 772.84L529.4 772.84L530.4 772.83L531.4 772.83L532.4 772.83L533.4 772.82L534.4 772.82L535.4 772.82L536.4 772.81L537.4 772.81L538.4 772.81L539.4 772.80L540.4 772.80L541.4 772.80L542.4 772.79L543.4 772.79L544.4 772.79L545.4 772.78L546.4 772.78L547.4 772.78L548.4 772.77L549.4 772.77L550.4 772.77L551.4 772.76L552.4 772.76L553.4 772.76L554.4 772.75L555.4 772.75L556.4 772.75L557.4 772.74L558.4 772.74L559.4 772.74L560.4 772.73L561.4 772.73L562.4 772.73L563.4 772.72L564.4 772.72L565.4 772.72L566.4 772.71L567.4 772.71L568.4 772.71L569.4 772.71L570.4 772.70L571.4 772.70L572.4 772.70L573.4 772.69L574.4 772.69L575.4 772.69L576.4 772.68L577.4 772.68L578.4 772.68L579.4 772.67L580.4 772.67L581.4 772.67L582.4 772.66L583.4 772.66L584.4 772.66L585.4 772.65L586.4 772.65L587.4 772.65L588.4 772.64L589.4 772.64L590.4 772.64L591.4 772.63L592.4 772.63L593.4 772.63L594.4 772.62L595.4 772.62L596.4 772.62L597.4 772.61L598.4 772.61L599.4 772.61L600.4 772.60L601.4 772.60L602.4 772.60L603.4 772.59L604.4 772.59L605.4 772.59L606.4 772.58L607.4 772.58L608.4 772.58L609.4 772.58L610.4 772.57L611.4 772.57L612.4 772.57L613.4 772.56L614.4 772.56L615.4 772.56L616.4 772.55L617.4 772.55L618.4 772.55L619.4 772.54L620.4 772.54L621.4 772.54L622.4 772.54L623.4 772.53L624.4 772.53L625.4 772.53L626.4 772.52L627.4 772.52L628.4 772.52L629.4 772.52L630.4 772.51L631.4 772.51L632.4 772.51L633.4 772.50L634.4 772.50L635.4 772.50L636.4 772.50L637.4 772.49L638.4 772.49L639.4 772.49L640.4 772.48L641.4 772.48L642.4 772.48L643.4 772.48L644.4 772.47L645.4 772.47L646.4 772.47L647.4 772.47L648.4 772.46L649.4 772.46L650.4 772.46L651.4 772.45L652.4 772.45L653.4 772.45L654.4 772.45L655.4 772.44L656.4 772.44L657.4 772.44L658.4 772.43L659.4 772.43L660.4 772.43L661.4 772.43L662.4 772.42L663.4 772.42L664.4 772.42L665.4 772.42L666.4 772.41L667.4 772.41L668.4 772.41L669.4 772.40L670.4 772.40L671.4 772.40L672.4 772.40L673.4 772.39L674.4 772.39L675.4 772.39L676.4 772.38L677.4 772.38L678.4 772.38L679.4 772.37L680.4 772.37L681.4 772.37L682.4 772.37L683.4 772.36L684.4 772.36L685.4 772.36L686.4 772.35L687.4 772.35L688.4 772.35L689.4 772.34L690.4 772.34L691.4 772.34L692.4 772.33L693.4 772.33L694.4 772.33L695.4 772.33L696.4 772.32L697.4 772.32L698.4 772.32L699.4 772.31L700.4 772.31L701.4 772.31L702.4 772.30L703.4 772.30L704.4 772.30L705.4 772.29L706.4 772.29L707.4 772.28L708.4 772.28L709.4 772.28L710.4 772.27L711.4 772.27L712.4 772.27L713.4 772.26L714.4 772.26L715.4 772.26L716.4 772.25L717.4 772.25L718.4 772.24L719.4 772.24L720.4 772.24L721.4 772.23L722.4 772.23L723.4 772.22L724.4 772.22L725.4 772.22L726.4 772.22L727.4 772.22L728.4 772.23L729.4 772.23L730.4 772.20L731.4 772.11L732.4 771.93L733.4 771.67L734.4 771.43L735.4 771.35L736.4 771.48L737.4 771.76L738.4 772.02L739.4 772.20L740.4 772.28L741.4 772.32L742.4 772.33L743.4 772.34L744.4 772.35L745.4 772.35L746.4 772.36L747.4 772.37L748.4 772.37L749.4 772.38L750.4 772.39L751.4 772.39L752.4 772.40L753.4 772.40L754.4 772.41L755.4 772.42L756.4 772.42L757.4 772.43L758.4 772.44L759.4 772.44L760.4 772.45L761.4 772.45L762.4 772.46L763.4 772.47L764.4 772.47L765.4 772.48L766.4 772.48L767.4 772.49L768.4 772.50L769.4 772.50L770.4 772.51L771.4 772.51L772.4 772.52L773.4 772.53L774.4 772.53L775.4 772.54L776.4 772.54L777.4 772.55L778.4 772.55L779.4 772.56L780.4 772.57L781.4 772.57L782.4 772.58L783.4 772.58L784.4 772.59L785.4 772.59L786.4 772.60L787.4 772.60L788.4 772.61L789.4 772.62L790.4 772.62L791.4 772.63L792.4 772.63L793.4 772.64L794.4 772.64L795.4 772.65L796.4 772.66L797.4 772.66L798.4 772.67L799.4 772.67L800.4 772.68L801.4 772.68L802.4 772.69L803.4 772.69L804.4 772.70L805.4 772.71L806.4 772.71L807.4 772.72L808.4 772.72L809.4 772.73L810.4 772.73L811.4 772.74L812.4 772.74L813.4 772.75L814.4 772.75L815.4 772.76L816.4 772.76L817.4 772.77L818.4 772.77L819.4 772.78L820.4 772.78L821.4 772.79L822.4 772.79L823.4 772.80L824.4 772.80L825.4 772.80L826.4 772.81L827.4 772.81L828.4 772.82L829.4 772.82L830.4 772.83L831.4 772.83L832.4 772.84L833.4 772.84L834.4 772.85L835.4 772.85L836.4 772.85L837.4 772.86L838.4 772.86L839.4 772.87L840.4 772.87L841.4 772.88L842.4 772.88L843.4 772.89L844.4 772.89L845.4 772.89L846.4 772.90L847.4 772.90L848.4 772.91L849.4 772.91L850.4 772.92L851.4 772.92L852.4 772.92L853.4 772.93L854.4 772.93L855.4 772.94L856.4 772.94L857.4 772.95L858.4 772.95L859.4 772.96L860.4 772.96L861.4 772.96L862.4 772.96L863.4 772.97L864.4 772.97L865.4 772.97L866.4 772.97L867.4 772.98L868.4 772.98L869.4 772.98L870.4 772.99L871.4 772.99L872.4 772.99L873.4 773.00L874.4 773.00L875.4 773.00L876.4 773.00L877.4 773.01L878.4 773.01L879.4 773.01L880.4 773.02L881.4 773.02L882.4 773.02L883.4 773.03L884.4 773.03L885.4 773.03L886.4 773.03L887.4 773.04L888.4 773.04L889.4 773.04L890.4 773.04L891.4 773.05L892.4 773.05L893.4 773.05L894.4 773.05L895.4 773.05L896.4 773.06L897.4 773.06L898.4 773.06L899.4 773.06L900.4 773.06L901.4 773.06L902.4 773.06L903.4 773.06L904.4 773.06L905.4 773.05L906.4 773.04L907.4 773.03L908.4 773.02L909.4 773.00L910.4 772.98L911.4 772.96L912.4 772.93L913.4 772.90L914.4 772.88L915.4 772.84L916.4 772.81L917.4 772.78L918.4 772.74L919.4 772.70L920.4 772.66L921.4 772.62L922.4 772.58L923.4 772.54L924.4 772.49L925.4 772.45L926.4 772.40L927.4 772.36L928.4 772.31L929.4 772.27L930.4 772.22L931.4 772.17L932.4 772.12L933.4 772.06L934.4 772.00L935.4 771.93L936.4 771.84L937.4 771.74L938.4 771.61L939.4 771.44L940.4 771.23L941.4 770.97L942.4 770.66L943.4 770.31L944.4 769.91L945.4 769.42L946.4 768.78L947.4 767.96L948.4 766.96L949.4 765.84L950.4 764.63L951.4 763.31L952.4 761.84L953.4 760.20L954.4 758.40L955.4 756.45L956.4 754.29L957.4 751.84L958.4 749.12L959.4 746.31L960.4 743.64L961.4 741.22L962.4 739.13L963.4 737.42L964.4 736.25L965.4 735.63L966.4 735.58L967.4 736.10L968.4 737.15L969.4 738.73L970.4 740.89L971.4 744.17L972.4 748.41L973.4 752.75L974.4 756.33L975.4 759.01L976.4 761.22L977.4 762.99L978.4 764.38L979.4 765.49L980.4 766.44L981.4 767.27L982.4 767.97L983.4 768.57L984.4 769.08L985.4 769.54L986.4 769.96L987.4 770.36L988.4 770.73L989.4 771.05L990.4 771.32L991.4 771.52L992.4 771.63L993.4 771.69L994.4 771.70L995.4 771.71L996.4 771.71L997.4 771.72L998.4 771.72L999.4 771.73L1000.4 771.73L1001.4 771.72L1002.4 771.71L1003.4 771.70L1004.4 771.69L1005.4 771.69L1006.4 771.68L1007.4 771.67L1008.4 771.66L1009.4 771.64L1010.4 771.62L1011.4 771.60L1012.4 771.57L1013.4 771.54L1014.4 771.51L1015.4 771.48L1016.4 771.45L1017.4 771.42L1018.4 771.40L1019.4 771.37L1020.4 771.34L1021.4 771.32L1022.4 771.30L1023.4 771.29L1024.4 771.28L1025.4 771.26L1026.4 771.25L1027.4 771.24L1028.4 771.23L1029.4 771.22L1030.4 771.22L1031.4 771.21L1032.4 771.21L1033.4 771.20L1034.4 771.20L1035.4 771.21L1036.4 771.21L1037.4 771.22L1038.4 771.23L1039.4 771.24L1040.4 771.24L1041.4 771.24L1042.4 771.23L1043.4 771.22L1044.4 771.22L1045.4 771.21L1046.4 771.21L1047.4 771.21L1048.4 771.21L1049.4 771.21L1050.4 771.21L1051.4 771.21L1052.4 771.21L1053.4 771.22L1054.4 771.23L1055.4 771.25L1056.4 771.28L1057.4 771.33L1058.4 771.38L1059.4 771.45L1060.4 771.51L1061.4 771.58L1062.4 771.65L1063.4 771.72L1064.4 771.78L1065.4 771.84L1066.4 771.89L1067.4 771.93L1068.4 771.96L1069.4 771.98L1070.4 772.01L1071.4 772.04L1072.4 772.07L1073.4 772.09L1074.4 772.12L1075.4 772.14L1076.4 772.16L1077.4 772.18L1078.4 772.20L1079.4 772.22L1080.4 772.23L1081.4 772.24L1082.4 772.25L1083.4 772.26L1084.4 772.26L1085.4 772.25L1086.4 772.25L1087.4 772.24L1088.4 772.24L1089.4 772.23L1090.4 772.22L1091.4 772.21L1092.4 772.20L1093.4 772.18L1094.4 772.17L1095.4 772.16L1096.4 772.14L1097.4 772.13L1098.4 772.11L1099.4 772.09L1100.4 772.07L1101.4 772.04L1102.4 772.01L1103.4 771.97L1104.4 771.94L1105.4 771.90L1106.4 771.86L1107.4 771.82L1108.4 771.77L1109.4 771.72L1110.4 771.65L1111.4 771.57L1112.4 771.47L1113.4 771.36L1114.4 771.23L1115.4 771.08L1116.4 770.88L1117.4 770.59L1118.4 770.21L1119.4 769.74L1120.4 769.20L1121.4 768.59L1122.4 767.85L1123.4 766.95L1124.4 765.90L1125.4 764.81L1126.4 763.78L1127.4 762.82L1128.4 761.97L1129.4 761.26L1130.4 760.76L1131.4 760.53L1132.4 760.56L1133.4 760.84L1134.4 761.29L1135.4 761.89L1136.4 762.67L1137.4 763.75L1138.4 765.12L1139.4 766.57L1140.4 767.75L1141.4 768.57L1142.4 769.15L1143.4 769.60L1144.4 769.88L1145.4 770.02L1146.4 770.08L1147.4 770.11L1148.4 770.14L1149.4 770.15L1150.4 770.15L1151.4 770.14L1152.4 770.13L1153.4 770.10L1154.4 770.08L1155.4 770.06L1156.4 770.05L1157.4 770.02L1158.4 769.99L1159.4 769.91L1160.4 769.75L1161.4 769.51L1162.4 769.19L1163.4 768.66L1164.4 767.87L1165.4 766.87L1166.4 765.87L1167.4 764.95L1168.4 764.16L1169.4 763.53L1170.4 763.10L1171.4 762.84L1172.4 762.66L1173.4 762.58L1174.4 762.60L1175.4 762.72L1176.4 762.93L1177.4 763.17L1178.4 763.33L1179.4 763.35L1180.4 763.26L1181.4 763.12L1182.4 762.97L1183.4 762.82L1184.4 762.69L1185.4 762.64L1186.4 762.69L1187.4 762.85L1188.4 763.09L1189.4 763.43L1190.4 763.94L1191.4 764.60L1192.4 765.30L1193.4 765.94L1194.4 766.50L1195.4 767.00L1196.4 767.42L1197.4 767.70L1198.4 767.86L1199.4 767.96L1200.4 768.04L1201.4 768.11L1202.4 768.16L1203.4 768.20L1204.4 768.23L1205.4 768.23L1206.4 768.21L1207.4 768.15L1208.4 768.07L1209.4 767.97L1210.4 767.86L1211.4 767.76L1212.4 767.68L1213.4 767.62L1214.4 767.61L1215.4 767.65L1216.4 767.73L1217.4 767.85L1218.4 767.99L1219.4 768.12L1220.4 768.25L1221.4 768.34L1222.4 768.38L1223.4 768.30L1224.4 768.07L1225.4 767.71L1226.4 767.26L1227.4 766.71L1228.4 766.04L1229.4 765.25L1230.4 764.52L1231.4 763.95L1232.4 763.53L1233.4 763.20L1234.4 762.93L1235.4 762.72L1236.4 762.62L1237.4 762.64L1238.4 762.80L1239.4 763.06L1240.4 763.35L1241.4 763.58L1242.4 763.69L1243.4 763.68L1244.4 763.62L1245.4 763.54L1246.4 763.46L1247.4 763.37L1248.4 763.25L1249.4 763.12L1250.4 762.93L1251.4 762.65L1252.4 762.27L1253.4 761.64L1254.4 760.67L1255.4 759.38L1256.4 757.93L1257.4 756.34L1258.4 754.70L1259.4 753.21L1260.4 752.14L1261.4 751.49L1262.4 751.11L1263.4 750.84L1264.4 750.66L1265.4 750.53L1266.4 750.45L1267.4 750.41L1268.4 750.38L1269.4 750.33L1270.4 750.24L1271.4 750.06L1272.4 749.82L1273.4 749.50L1274.4 749.05L1275.4 748.40L1276.4 747.18L1277.4 745.14L1278.4 742.55L1279.4 739.87L1280.4 737.63L1281.4 735.99L1282.4 734.95L1283.4 734.47L1284.4 734.15L1285.4 734.01L1286.4 733.99L1287.4 734.36L1288.4 735.19L1289.4 736.76L1290.4 739.51L1291.4 743.42L1292.4 748.17L1293.4 752.97L1294.4 757.06L1295.4 760.19L1296.4 762.34L1297.4 763.91L1298.4 764.83L1299.4 765.11L1300.4 764.86L1301.4 764.31L1302.4 763.53L1303.4 762.28L1304.4 760.37L1305.4 757.85L1306.4 755.13L1307.4 752.41L1308.4 749.86L1309.4 747.76L1310.4 746.32L1311.4 745.50L1312.4 745.11L1313.4 745.05L1314.4 745.38L1315.4 745.98L1316.4 746.78L1317.4 747.49L1318.4 748.04L1319.4 748.44L1320.4 748.76L1321.4 748.97L1322.4 748.99L1323.4 748.69L1324.4 748.07L1325.4 747.12L1326.4 745.71L1327.4 743.82L1328.4 741.60L1329.4 739.24L1330.4 736.83L1331.4 734.39L1332.4 732.14L1333.4 730.26L1334.4 728.76L1335.4 727.64L1336.4 726.94L1337.4 726.65L1338.4 726.69L1339.4 726.47L1340.4 726.01L1341.4 725.47L1342.4 725.59L1343.4 726.43L1344.4 727.88L1345.4 729.83L1346.4 732.21L1347.4 734.71L1348.4 737.09L1349.4 739.20L1350.4 740.85L1351.4 741.85L1352.4 742.21L1353.4 742.50L1354.4 742.68L1355.4 742.73L1356.4 742.37L1357.4 741.65L1358.4 740.50L1359.4 739.28L1360.4 738.52L1361.4 738.55L1362.4 738.77L1363.4 738.94L1364.4 739.01L1365.4 739.31L1366.4 739.75L1367.4 740.35L1368.4 741.18L1369.4 742.26L1370.4 743.58L1371.4 745.05L1372.4 746.56L1373.4 748.08L1374.4 749.62L1375.4 751.19L1376.4 752.76L1377.4 754.24L1378.4 755.57L1379.4 756.75L1380.4 757.83L1381.4 758.84L1382.4 759.79L1383.4 760.70L1384.4 761.60L1385.4 762.49L1386.4 763.32L1387.4 764.04L1388.4 764.62L1389.4 765.06L1390.4 765.44L1391.4 765.82L1392.4 766.19L1393.4 766.54L1394.4 766.82L1395.4 767.03L1396.4 767.20L1397.4 767.35L1398.4 767.49L1399.4 767.62L1400.4 767.74L1401.4 767.85L1402.4 767.95L1403.4 768.03L1404.4 768.09L1405.4 768.10L1406.4 768.07L1407.4 768.00L1408.4 767.95L1409.4 767.95L1410.4 768.01L1411.4 768.18L1412.4 768.43L1413.4 768.73L1414.4 769.03L1415.4 769.27L1416.4 769.44L1417.4 769.56L1418.4 769.66L1419.4 769.75L1420.4 769.83L1421.4 769.90L1422.4 769.97L1423.4 770.03L1424.4 770.09L1425.4 770.13L1426.4 770.14L1427.4 770.13L1428.4 770.10L1429.4 770.08L1430.4 770.06L1431.4 770.04L1432.4 770.02L1433.4 770.00L1434.4 769.98L1435.4 769.96L1436.4 769.94L1437.4 769.92L1438.4 769.89L1439.4 769.86L1440.4 769.83L1441.4 769.80L1442.4 769.77L1443.4 769.73L1444.4 769.69L1445.4 769.64L1446.4 769.56L1447.4 769.41L1448.4 769.20L1449.4 768.93L1450.4 768.60L1451.4 768.18L1452.4 767.64L1453.4 766.98L1454.4 766.33L1455.4 765.72L1456.4 765.16L1457.4 764.64L1458.4 764.23L1459.4 764.04L1460.4 764.14L1461.4 764.52L1462.4 765.06L1463.4 765.66L1464.4 766.31L1465.4 767.01L1466.4 767.75L1467.4 768.42L1468.4 768.99L1469.4 769.46L1470.4 769.89L1471.4 770.27L1472.4 770.61L1473.4 770.89L1474.4 771.11L1475.4 771.26L1476.4 771.38L1477.4 771.48L1478.4 771.57L1479.4 771.66L1480.4 771.74L1481.4 771.80L1482.4 771.85L1483.4 771.89L1484.4 771.92L1485.4 771.94L1486.4 771.95L1487.4 771.95L1488.4 771.95L1489.4 771.95L1490.4 771.94L1491.4 771.93L1492.4 771.92L1493.4 771.91L1494.4 771.89L1495.4 771.87L1496.4 771.85L1497.4 771.83L1498.4 771.78L1499.4 771.71L1500.4 771.60L1501.4 771.46L1502.4 771.29L1503.4 771.11L1504.4 770.92L1505.4 770.71L1506.4 770.49L1507.4 770.24L1508.4 769.95L1509.4 769.62L1510.4 769.27L1511.4 768.88L1512.4 768.49L1513.4 768.05L1514.4 767.56L1515.4 767.02L1516.4 766.48L1517.4 765.98L1518.4 765.56L1519.4 765.19L1520.4 764.87L1521.4 764.62L1522.4 764.53L1523.4 764.64L1524.4 764.97L1525.4 765.45L1526.4 765.97L1527.4 766.50L1528.4 767.03L1529.4 767.58L1530.4 768.12L1531.4 768.61L1532.4 769.05L1533.4 769.44L1534.4 769.80L1535.4 770.11L1536.4 770.32L1537.4 770.40L1538.4 770.34L1539.4 770.16L1540.4 769.92L1541.4 769.64L1542.4 769.37L1543.4 769.09L1544.4 768.80L1545.4 768.50L1546.4 768.23L1547.4 768.02L1548.4 767.85L1549.4 767.72L1550.4 767.60L1551.4 767.49L1552.4 767.41L1553.4 767.36L1554.4 767.34L1555.4 767.34L1556.4 767.35L1557.4 767.36L1558.4 767.37L1559.4 767.38L1560.4 767.39L1561.4 767.39L1562.4 767.40L1563.4 767.41L1564.4 767.42L1565.4 767.43L1566.4 767.43L1567.4 767.44L1568.4 767.46L1569.4 767.50L1570.4 767.55L1571.4 767.60L1572.4 767.67L1573.4 767.74L1574.4 767.81L1575.4 767.89L1576.4 767.97L1577.4 768.04L1578.4 768.12L1579.4 768.19L1580.4 768.26L1581.4 768.34L1582.4 768.42L1583.4 768.51L1584.4 768.60L1585.4 768.69L1586.4 768.78L1587.4 768.87L1588.4 768.96L1589.4 769.05L1590.4 769.14L1591.4 769.23L1592.4 769.32L1593.4 769.40L1594.4 769.48L1595.4 769.56L1596.4 769.63L1597.4 769.70L1598.4 769.77L1599.4 769.84L1600.4 769.91L1601.4 769.98L1602.4 770.05L1603.4 770.12L1604.4 770.19L1605.4 770.25L1606.4 770.31L1607.4 770.37L1608.4 770.43L1609.4 770.48L1610.4 770.52L1611.4 770.56L1612.4 770.60L1613.4 770.63L1614.4 770.65L1615.4 770.67L1616.4 770.68L1617.4 770.68L1618.4 770.67L1619.4 770.65L1620.4 770.64L1621.4 770.62L1622.4 770.60L1623.4 770.58L1624.4 770.56L1625.4 770.53L1626.4 770.50L1627.4 770.45L1628.4 770.40L1629.4 770.34L1630.4 770.27L1631.4 770.21L1632.4 770.14L1633.4 770.07L1634.4 770.00L1635.4 769.93L1636.4 769.87L1637.4 769.82L1638.4 769.77L1639.4 769.74L1640.4 769.71L1641.4 769.69L1642.4 769.67L1643.4 769.65L1644.4 769.63L1645.4 769.62L1646.4 769.61L1647.4 769.60L1648.4 769.59L1649.4 769.58L1650.4 769.58L1651.4 769.57L1652.4 769.56L1653.4 769.56L1654.4 769.55L1655.4 769.55L1656.4 769.54L1657.4 769.54L1658.4 769.54L1659.4 769.55L1660.4 769.55L1661.4 769.55L1662.4 769.56L1663.4 769.57L1664.4 769.58L1665.4 769.59L1666.4 769.59" fill="none" stroke="#f03c41" stroke-width="8.44" stroke-linejoin="round" stroke-linecap="butt"/><path d="M150.4 857.43L151.4 857.43L152.4 857.43L153.4 857.43L154.4 857.43L155.4 857.43L156.4 857.43L157.4 857.43L158.4 857.43L159.4 857.43L160.4 857.43L161.4 857.43L162.4 857.43L163.4 857.43L164.4 857.43L165.4 857.43L166.4 857.43L167.4 857.43L168.4 857.43L169.4 857.43L170.4 857.43L171.4 857.43L172.4 857.43L173.4 857.43L174.4 857.43L175.4 857.43L176.4 857.43L177.4 857.43L178.4 857.43L179.4 857.43L180.4 857.43L181.4 857.43L182.4 857.43L183.4 857.43L184.4 857.43L185.4 857.43L186.4 857.43L187.4 857.43L188.4 857.43L189.4 857.43L190.4 857.43L191.4 857.43L192.4 857.43L193.4 857.43L194.4 857.43L195.4 857.43L196.4 857.43L197.4 857.43L198.4 857.43L199.4 857.43L200.4 857.43L201.4 857.43L202.4 857.43L203.4 857.43L204.4 857.43L205.4 857.43L206.4 857.43L207.4 857.43L208.4 857.43L209.4 857.43L210.4 857.43L211.4 857.43L212.4 857.43L213.4 857.43L214.4 857.43L215.4 857.43L216.4 857.43L217.4 857.43L218.4 857.43L219.4 857.43L220.4 857.43L221.4 857.43L222.4 857.42L223.4 857.42L224.4 857.42L225.4 857.42L226.4 857.42L227.4 857.42L228.4 857.42L229.4 857.42L230.4 857.41L231.4 857.41L232.4 857.41L233.4 857.41L234.4 857.41L235.4 857.40L236.4 857.40L237.4 857.40L238.4 857.40L239.4 857.39L240.4 857.39L241.4 857.39L242.4 857.39L243.4 857.38L244.4 857.38L245.4 857.37L246.4 857.35L247.4 857.34L248.4 857.31L249.4 857.29L250.4 857.26L251.4 857.23L252.4 857.20L253.4 857.17L254.4 857.14L255.4 857.11L256.4 857.08L257.4 857.05L258.4 857.01L259.4 856.98L260.4 856.94L261.4 856.90L262.4 856.87L263.4 856.84L264.4 856.81L265.4 856.79L266.4 856.79L267.4 856.79L268.4 856.80L269.4 856.81L270.4 856.83L271.4 856.84L272.4 856.86L273.4 856.87L274.4 856.86L275.4 856.84L276.4 856.79L277.4 856.70L278.4 856.60L279.4 856.49L280.4 856.38L281.4 856.28L282.4 856.17L283.4 856.05L284.4 855.93L285.4 855.82L286.4 855.73L287.4 855.66L288.4 855.64L289.4 855.67L290.4 855.73L291.4 855.82L292.4 855.92L293.4 856.01L294.4 856.09L295.4 856.17L296.4 856.25L297.4 856.30L298.4 856.32L299.4 856.30L300.4 856.27L301.4 856.22L302.4 856.16L303.4 856.10L304.4 856.01L305.4 855.91L306.4 855.80L307.4 855.70L308.4 855.65L309.4 855.65L310.4 855.69L311.4 855.75L312.4 855.83L313.4 855.92L314.4 856.00L315.4 856.09L316.4 856.19L317.4 856.29L318.4 856.39L319.4 856.46L320.4 856.52L321.4 856.55L322.4 856.57L323.4 856.58L324.4 856.59L325.4 856.60L326.4 856.61L327.4 856.62L328.4 856.62L329.4 856.61L330.4 856.59L331.4 856.57L332.4 856.55L333.4 856.54L334.4 856.56L335.4 856.59L336.4 856.64L337.4 856.71L338.4 856.77L339.4 856.83L340.4 856.89L341.4 856.95L342.4 857.00L343.4 857.03L344.4 857.04L345.4 857.04L346.4 857.02L347.4 856.99L348.4 856.96L349.4 856.94L350.4 856.91L351.4 856.89L352.4 856.89L353.4 856.90L354.4 856.93L355.4 856.99L356.4 857.05L357.4 857.11L358.4 857.16L359.4 857.21L360.4 857.27L361.4 857.32L362.4 857.36L363.4 857.40L364.4 857.43L365.4 857.45L366.4 857.47L367.4 857.49L368.4 857.50L369.4 857.52L370.4 857.53L371.4 857.54L372.4 857.56L373.4 857.57L374.4 857.58L375.4 857.58L376.4 857.59L377.4 857.60L378.4 857.60L379.4 857.61L380.4 857.61L381.4 857.62L382.4 857.62L383.4 857.62L384.4 857.62L385.4 857.62L386.4 857.62L387.4 857.62L388.4 857.63L389.4 857.63L390.4 857.63L391.4 857.63L392.4 857.63L393.4 857.63L394.4 857.63L395.4 857.63L396.4 857.63L397.4 857.64L398.4 857.64L399.4 857.64L400.4 857.64L401.4 857.64L402.4 857.64L403.4 857.64L404.4 857.64L405.4 857.64L406.4 857.64L407.4 857.64L408.4 857.64L409.4 857.64L410.4 857.64L411.4 857.64L412.4 857.64L413.4 857.65L414.4 857.65L415.4 857.65L416.4 857.65L417.4 857.65L418.4 857.65L419.4 857.65L420.4 857.65L421.4 857.65L422.4 857.65L423.4 857.65L424.4 857.65L425.4 857.65L426.4 857.65L427.4 857.65L428.4 857.65L429.4 857.65L430.4 857.65L431.4 857.65L432.4 857.65L433.4 857.65L434.4 857.65L435.4 857.65L436.4 857.66L437.4 857.66L438.4 857.66L439.4 857.66L440.4 857.65L441.4 857.65L442.4 857.65L443.4 857.64L444.4 857.64L445.4 857.64L446.4 857.63L447.4 857.63L448.4 857.63L449.4 857.62L450.4 857.62L451.4 857.61L452.4 857.61L453.4 857.61L454.4 857.60L455.4 857.60L456.4 857.60L457.4 857.59L458.4 857.59L459.4 857.58L460.4 857.58L461.4 857.58L462.4 857.57L463.4 857.57L464.4 857.57L465.4 857.56L466.4 857.56L467.4 857.55L468.4 857.55L469.4 857.55L470.4 857.54L471.4 857.54L472.4 857.54L473.4 857.53L474.4 857.53L475.4 857.52L476.4 857.52L477.4 857.52L478.4 857.51L479.4 857.51L480.4 857.50L481.4 857.50L482.4 857.50L483.4 857.49L484.4 857.49L485.4 857.49L486.4 857.48L487.4 857.48L488.4 857.47L489.4 857.47L490.4 857.47L491.4 857.46L492.4 857.46L493.4 857.46L494.4 857.45L495.4 857.45L496.4 857.44L497.4 857.44L498.4 857.44L499.4 857.43L500.4 857.43L501.4 857.43L502.4 857.42L503.4 857.42L504.4 857.41L505.4 857.41L506.4 857.41L507.4 857.40L508.4 857.40L509.4 857.39L510.4 857.39L511.4 857.39L512.4 857.38L513.4 857.38L514.4 857.38L515.4 857.37L516.4 857.37L517.4 857.36L518.4 857.36L519.4 857.36L520.4 857.35L521.4 857.35L522.4 857.34L523.4 857.34L524.4 857.34L525.4 857.33L526.4 857.33L527.4 857.33L528.4 857.32L529.4 857.32L530.4 857.31L531.4 857.31L532.4 857.31L533.4 857.30L534.4 857.30L535.4 857.30L536.4 857.29L537.4 857.29L538.4 857.28L539.4 857.28L540.4 857.28L541.4 857.27L542.4 857.27L543.4 857.26L544.4 857.26L545.4 857.26L546.4 857.25L547.4 857.25L548.4 857.25L549.4 857.24L550.4 857.24L551.4 857.23L552.4 857.23L553.4 857.23L554.4 857.22L555.4 857.22L556.4 857.21L557.4 857.21L558.4 857.21L559.4 857.20L560.4 857.20L561.4 857.20L562.4 857.19L563.4 857.19L564.4 857.18L565.4 857.18L566.4 857.18L567.4 857.17L568.4 857.17L569.4 857.16L570.4 857.16L571.4 857.16L572.4 857.15L573.4 857.15L574.4 857.15L575.4 857.14L576.4 857.14L577.4 857.13L578.4 857.13L579.4 857.13L580.4 857.12L581.4 857.12L582.4 857.11L583.4 857.11L584.4 857.11L585.4 857.10L586.4 857.10L587.4 857.10L588.4 857.09L589.4 857.09L590.4 857.08L591.4 857.08L592.4 857.08L593.4 857.07L594.4 857.07L595.4 857.07L596.4 857.06L597.4 857.06L598.4 857.05L599.4 857.05L600.4 857.05L601.4 857.04L602.4 857.04L603.4 857.04L604.4 857.03L605.4 857.03L606.4 857.02L607.4 857.02L608.4 857.02L609.4 857.01L610.4 857.01L611.4 857.01L612.4 857.00L613.4 857.00L614.4 856.99L615.4 856.99L616.4 856.99L617.4 856.98L618.4 856.98L619.4 856.98L620.4 856.97L621.4 856.97L622.4 856.97L623.4 856.96L624.4 856.96L625.4 856.96L626.4 856.95L627.4 856.95L628.4 856.95L629.4 856.94L630.4 856.94L631.4 856.93L632.4 856.93L633.4 856.93L634.4 856.92L635.4 856.92L636.4 856.92L637.4 856.91L638.4 856.91L639.4 856.91L640.4 856.90L641.4 856.90L642.4 856.90L643.4 856.89L644.4 856.89L645.4 856.89L646.4 856.88L647.4 856.88L648.4 856.88L649.4 856.87L650.4 856.87L651.4 856.87L652.4 856.86L653.4 856.86L654.4 856.86L655.4 856.85L656.4 856.85L657.4 856.85L658.4 856.84L659.4 856.84L660.4 856.84L661.4 856.83L662.4 856.83L663.4 856.83L664.4 856.82L665.4 856.82L666.4 856.82L667.4 856.81L668.4 856.81L669.4 856.81L670.4 856.80L671.4 856.80L672.4 856.80L673.4 856.79L674.4 856.79L675.4 856.79L676.4 856.78L677.4 856.78L678.4 856.77L679.4 856.77L680.4 856.77L681.4 856.76L682.4 856.76L683.4 856.76L684.4 856.75L685.4 856.75L686.4 856.75L687.4 856.74L688.4 856.74L689.4 856.74L690.4 856.73L691.4 856.73L692.4 856.72L693.4 856.72L694.4 856.72L695.4 856.71L696.4 856.71L697.4 856.71L698.4 856.70L699.4 856.70L700.4 856.69L701.4 856.69L702.4 856.69L703.4 856.68L704.4 856.68L705.4 856.67L706.4 856.67L707.4 856.67L708.4 856.66L709.4 856.66L710.4 856.65L711.4 856.65L712.4 856.65L713.4 856.64L714.4 856.64L715.4 856.63L716.4 856.63L717.4 856.62L718.4 856.62L719.4 856.62L720.4 856.61L721.4 856.61L722.4 856.60L723.4 856.60L724.4 856.59L725.4 856.59L726.4 856.59L727.4 856.59L728.4 856.60L729.4 856.60L730.4 856.61L731.4 856.61L732.4 856.62L733.4 856.62L734.4 856.63L735.4 856.63L736.4 856.64L737.4 856.64L738.4 856.65L739.4 856.65L740.4 856.66L741.4 856.66L742.4 856.67L743.4 856.67L744.4 856.67L745.4 856.68L746.4 856.68L747.4 856.69L748.4 856.69L749.4 856.70L750.4 856.70L751.4 856.70L752.4 856.71L753.4 856.71L754.4 856.72L755.4 856.72L756.4 856.72L757.4 856.73L758.4 856.73L759.4 856.74L760.4 856.74L761.4 856.74L762.4 856.75L763.4 856.75L764.4 856.75L765.4 856.76L766.4 856.76L767.4 856.77L768.4 856.77L769.4 856.77L770.4 856.78L771.4 856.78L772.4 856.78L773.4 856.79L774.4 856.79L775.4 856.79L776.4 856.80L777.4 856.80L778.4 856.80L779.4 856.81L780.4 856.81L781.4 856.81L782.4 856.82L783.4 856.82L784.4 856.82L785.4 856.83L786.4 856.83L787.4 856.83L788.4 856.84L789.4 856.84L790.4 856.84L791.4 856.85L792.4 856.85L793.4 856.85L794.4 856.86L795.4 856.86L796.4 856.86L797.4 856.87L798.4 856.87L799.4 856.87L800.4 856.88L801.4 856.88L802.4 856.88L803.4 856.89L804.4 856.89L805.4 856.89L806.4 856.90L807.4 856.90L808.4 856.90L809.4 856.91L810.4 856.91L811.4 856.91L812.4 856.91L813.4 856.92L814.4 856.92L815.4 856.92L816.4 856.92L817.4 856.93L818.4 856.93L819.4 856.93L820.4 856.93L821.4 856.94L822.4 856.94L823.4 856.94L824.4 856.94L825.4 856.95L826.4 856.95L827.4 856.95L828.4 856.95L829.4 856.96L830.4 856.96L831.4 856.96L832.4 856.96L833.4 856.97L834.4 856.97L835.4 856.97L836.4 856.97L837.4 856.97L838.4 856.98L839.4 856.98L840.4 856.98L841.4 856.98L842.4 856.98L843.4 856.99L844.4 856.99L845.4 856.99L846.4 856.99L847.4 856.99L848.4 857.00L849.4 857.00L850.4 857.00L851.4 857.00L852.4 857.01L853.4 857.01L854.4 857.01L855.4 857.01L856.4 857.01L857.4 857.02L858.4 857.02L859.4 857.02L860.4 857.02L861.4 857.02L862.4 857.02L863.4 857.02L864.4 857.02L865.4 857.02L866.4 857.02L867.4 857.02L868.4 857.02L869.4 857.03L870.4 857.03L871.4 857.03L872.4 857.03L873.4 857.03L874.4 857.03L875.4 857.03L876.4 857.03L877.4 857.03L878.4 857.04L879.4 857.04L880.4 857.04L881.4 857.04L882.4 857.04L883.4 857.04L884.4 857.04L885.4 857.04L886.4 857.04L887.4 857.05L888.4 857.05L889.4 857.05L890.4 857.05L891.4 857.05L892.4 857.05L893.4 857.05L894.4 857.05L895.4 857.05L896.4 857.05L897.4 857.05L898.4 857.05L899.4 857.05L900.4 857.05L901.4 857.04L902.4 857.04L903.4 857.04L904.4 857.04L905.4 857.03L906.4 857.02L907.4 857.00L908.4 856.99L909.4 856.97L910.4 856.94L911.4 856.92L912.4 856.89L913.4 856.86L914.4 856.83L915.4 856.80L916.4 856.76L917.4 856.72L918.4 856.68L919.4 856.64L920.4 856.60L921.4 856.55L922.4 856.51L923.4 856.46L924.4 856.41L925.4 856.37L926.4 856.32L927.4 856.27L928.4 856.22L929.4 856.17L930.4 856.12L931.4 856.07L932.4 856.01L933.4 855.95L934.4 855.88L935.4 855.80L936.4 855.71L937.4 855.60L938.4 855.47L939.4 855.29L940.4 855.07L941.4 854.80L942.4 854.47L943.4 854.10L944.4 853.68L945.4 853.17L946.4 852.51L947.4 851.64L948.4 850.60L949.4 849.43L950.4 848.16L951.4 846.79L952.4 845.26L953.4 843.55L954.4 841.67L955.4 839.63L956.4 837.37L957.4 834.82L958.4 831.98L959.4 829.05L960.4 826.27L961.4 823.74L962.4 821.56L963.4 819.78L964.4 818.55L965.4 817.90L966.4 817.85L967.4 818.40L968.4 819.49L969.4 821.13L970.4 823.38L971.4 826.80L972.4 831.22L973.4 835.74L974.4 839.48L975.4 842.26L976.4 844.56L977.4 846.41L978.4 847.86L979.4 849.02L980.4 850.00L981.4 850.86L982.4 851.60L983.4 852.22L984.4 852.75L985.4 853.22L986.4 853.66L987.4 854.08L988.4 854.46L989.4 854.79L990.4 855.07L991.4 855.27L992.4 855.39L993.4 855.45L994.4 855.46L995.4 855.46L996.4 855.47L997.4 855.47L998.4 855.48L999.4 855.48L1000.4 855.48L1001.4 855.48L1002.4 855.47L1003.4 855.47L1004.4 855.46L1005.4 855.46L1006.4 855.46L1007.4 855.45L1008.4 855.45L1009.4 855.44L1010.4 855.42L1011.4 855.41L1012.4 855.39L1013.4 855.38L1014.4 855.36L1015.4 855.35L1016.4 855.34L1017.4 855.33L1018.4 855.32L1019.4 855.32L1020.4 855.32L1021.4 855.32L1022.4 855.33L1023.4 855.34L1024.4 855.36L1025.4 855.38L1026.4 855.40L1027.4 855.42L1028.4 855.44L1029.4 855.47L1030.4 855.50L1031.4 855.54L1032.4 855.57L1033.4 855.61L1034.4 855.65L1035.4 855.70L1036.4 855.75L1037.4 855.80L1038.4 855.85L1039.4 855.89L1040.4 855.92L1041.4 855.92L1042.4 855.92L1043.4 855.91L1044.4 855.90L1045.4 855.89L1046.4 855.89L1047.4 855.88L1048.4 855.87L1049.4 855.86L1050.4 855.85L1051.4 855.85L1052.4 855.84L1053.4 855.83L1054.4 855.83L1055.4 855.82L1056.4 855.82L1057.4 855.82L1058.4 855.83L1059.4 855.84L1060.4 855.85L1061.4 855.86L1062.4 855.88L1063.4 855.90L1064.4 855.92L1065.4 855.94L1066.4 855.96L1067.4 855.98L1068.4 855.99L1069.4 856.01L1070.4 856.03L1071.4 856.04L1072.4 856.06L1073.4 856.08L1074.4 856.10L1075.4 856.12L1076.4 856.13L1077.4 856.15L1078.4 856.17L1079.4 856.19L1080.4 856.20L1081.4 856.22L1082.4 856.23L1083.4 856.24L1084.4 856.25L1085.4 856.25L1086.4 856.26L1087.4 856.26L1088.4 856.27L1089.4 856.27L1090.4 856.27L1091.4 856.27L1092.4 856.27L1093.4 856.27L1094.4 856.26L1095.4 856.26L1096.4 856.25L1097.4 856.25L1098.4 856.24L1099.4 856.23L1100.4 856.22L1101.4 856.20L1102.4 856.17L1103.4 856.15L1104.4 856.12L1105.4 856.09L1106.4 856.06L1107.4 856.03L1108.4 855.99L1109.4 855.95L1110.4 855.89L1111.4 855.83L1112.4 855.75L1113.4 855.65L1114.4 855.54L1115.4 855.41L1116.4 855.23L1117.4 854.97L1118.4 854.62L1119.4 854.18L1120.4 853.68L1121.4 853.10L1122.4 852.39L1123.4 851.52L1124.4 850.49L1125.4 849.41L1126.4 848.38L1127.4 847.40L1128.4 846.51L1129.4 845.76L1130.4 845.19L1131.4 844.93L1132.4 844.94L1133.4 845.22L1134.4 845.67L1135.4 846.28L1136.4 847.07L1137.4 848.16L1138.4 849.54L1139.4 851.01L1140.4 852.21L1141.4 853.05L1142.4 853.64L1143.4 854.10L1144.4 854.39L1145.4 854.55L1146.4 854.61L1147.4 854.66L1148.4 854.69L1149.4 854.72L1150.4 854.73L1151.4 854.73L1152.4 854.72L1153.4 854.70L1154.4 854.68L1155.4 854.66L1156.4 854.63L1157.4 854.59L1158.4 854.55L1159.4 854.45L1160.4 854.29L1161.4 854.03L1162.4 853.68L1163.4 853.13L1164.4 852.30L1165.4 851.25L1166.4 850.20L1167.4 849.23L1168.4 848.39L1169.4 847.73L1170.4 847.26L1171.4 846.97L1172.4 846.77L1173.4 846.66L1174.4 846.67L1175.4 846.79L1176.4 847.01L1177.4 847.26L1178.4 847.43L1179.4 847.45L1180.4 847.35L1181.4 847.21L1182.4 847.05L1183.4 846.90L1184.4 846.76L1185.4 846.68L1186.4 846.69L1187.4 846.80L1188.4 846.98L1189.4 847.28L1190.4 847.76L1191.4 848.42L1192.4 849.13L1193.4 849.78L1194.4 850.36L1195.4 850.87L1196.4 851.30L1197.4 851.58L1198.4 851.74L1199.4 851.82L1200.4 851.88L1201.4 851.94L1202.4 851.97L1203.4 851.99L1204.4 851.99L1205.4 851.97L1206.4 851.92L1207.4 851.83L1208.4 851.71L1209.4 851.57L1210.4 851.44L1211.4 851.32L1212.4 851.22L1213.4 851.16L1214.4 851.15L1215.4 851.20L1216.4 851.30L1217.4 851.44L1218.4 851.60L1219.4 851.76L1220.4 851.91L1221.4 852.01L1222.4 852.05L1223.4 851.96L1224.4 851.71L1225.4 851.31L1226.4 850.82L1227.4 850.21L1228.4 849.47L1229.4 848.62L1230.4 847.84L1231.4 847.23L1232.4 846.79L1233.4 846.46L1234.4 846.19L1235.4 845.99L1236.4 845.90L1237.4 845.94L1238.4 846.13L1239.4 846.43L1240.4 846.75L1241.4 847.00L1242.4 847.13L1243.4 847.14L1244.4 847.09L1245.4 847.02L1246.4 846.95L1247.4 846.86L1248.4 846.76L1249.4 846.62L1250.4 846.40L1251.4 846.08L1252.4 845.65L1253.4 844.95L1254.4 843.90L1255.4 842.51L1256.4 840.93L1257.4 839.20L1258.4 837.40L1259.4 835.75L1260.4 834.54L1261.4 833.76L1262.4 833.26L1263.4 832.88L1264.4 832.59L1265.4 832.36L1266.4 832.18L1267.4 832.03L1268.4 831.90L1269.4 831.78L1270.4 831.64L1271.4 831.44L1272.4 831.19L1273.4 830.84L1274.4 830.35L1275.4 829.63L1276.4 828.30L1277.4 826.08L1278.4 823.24L1279.4 820.32L1280.4 817.88L1281.4 816.10L1282.4 814.99L1283.4 814.47L1284.4 814.16L1285.4 814.05L1286.4 814.07L1287.4 814.53L1288.4 815.48L1289.4 817.22L1290.4 820.23L1291.4 824.50L1292.4 829.65L1293.4 834.84L1294.4 839.26L1295.4 842.64L1296.4 844.95L1297.4 846.63L1298.4 847.62L1299.4 847.91L1300.4 847.64L1301.4 847.05L1302.4 846.20L1303.4 844.86L1304.4 842.81L1305.4 840.11L1306.4 837.21L1307.4 834.30L1308.4 831.58L1309.4 829.34L1310.4 827.81L1311.4 826.93L1312.4 826.52L1313.4 826.44L1314.4 826.77L1315.4 827.39L1316.4 828.20L1317.4 828.93L1318.4 829.49L1319.4 829.88L1320.4 830.20L1321.4 830.40L1322.4 830.37L1323.4 830.00L1324.4 829.27L1325.4 828.18L1326.4 826.60L1327.4 824.49L1328.4 822.01L1329.4 819.37L1330.4 816.66L1331.4 813.90L1332.4 811.35L1333.4 809.19L1334.4 807.43L1335.4 806.09L1336.4 805.20L1337.4 804.76L1338.4 804.68L1339.4 804.25L1340.4 803.49L1341.4 802.58L1342.4 802.43L1343.4 803.11L1344.4 804.51L1345.4 806.52L1346.4 809.03L1347.4 811.73L1348.4 814.32L1349.4 816.62L1350.4 818.40L1351.4 819.44L1352.4 819.74L1353.4 820.01L1354.4 820.20L1355.4 820.28L1356.4 819.87L1357.4 819.05L1358.4 817.72L1359.4 816.32L1360.4 815.46L1361.4 815.54L1362.4 815.66L1363.4 815.56L1364.4 815.19L1365.4 815.09L1366.4 815.19L1367.4 815.51L1368.4 816.14L1369.4 817.12L1370.4 818.43L1371.4 819.98L1372.4 821.62L1373.4 823.31L1374.4 825.06L1375.4 826.91L1376.4 828.79L1377.4 830.58L1378.4 832.20L1379.4 833.65L1380.4 834.99L1381.4 836.25L1382.4 837.44L1383.4 838.61L1384.4 839.78L1385.4 840.95L1386.4 842.06L1387.4 843.03L1388.4 843.78L1389.4 844.37L1390.4 844.86L1391.4 845.36L1392.4 845.86L1393.4 846.32L1394.4 846.69L1395.4 846.96L1396.4 847.16L1397.4 847.34L1398.4 847.49L1399.4 847.64L1400.4 847.77L1401.4 847.89L1402.4 847.99L1403.4 848.07L1404.4 848.10L1405.4 848.06L1406.4 847.94L1407.4 847.77L1408.4 847.61L1409.4 847.53L1410.4 847.58L1411.4 847.81L1412.4 848.20L1413.4 848.68L1414.4 849.15L1415.4 849.53L1416.4 849.79L1417.4 849.96L1418.4 850.09L1419.4 850.21L1420.4 850.32L1421.4 850.42L1422.4 850.50L1423.4 850.57L1424.4 850.63L1425.4 850.67L1426.4 850.69L1427.4 850.69L1428.4 850.68L1429.4 850.67L1430.4 850.66L1431.4 850.65L1432.4 850.64L1433.4 850.64L1434.4 850.63L1435.4 850.62L1436.4 850.61L1437.4 850.59L1438.4 850.58L1439.4 850.56L1440.4 850.54L1441.4 850.51L1442.4 850.48L1443.4 850.45L1444.4 850.41L1445.4 850.36L1446.4 850.26L1447.4 850.07L1448.4 849.78L1449.4 849.42L1450.4 848.99L1451.4 848.43L1452.4 847.71L1453.4 846.85L1454.4 846.00L1455.4 845.24L1456.4 844.56L1457.4 843.94L1458.4 843.46L1459.4 843.26L1460.4 843.41L1461.4 843.89L1462.4 844.58L1463.4 845.35L1464.4 846.19L1465.4 847.09L1466.4 848.04L1467.4 848.92L1468.4 849.65L1469.4 850.26L1470.4 850.80L1471.4 851.30L1472.4 851.74L1473.4 852.10L1474.4 852.37L1475.4 852.56L1476.4 852.70L1477.4 852.83L1478.4 852.94L1479.4 853.04L1480.4 853.13L1481.4 853.20L1482.4 853.26L1483.4 853.31L1484.4 853.33L1485.4 853.34L1486.4 853.34L1487.4 853.34L1488.4 853.33L1489.4 853.33L1490.4 853.33L1491.4 853.32L1492.4 853.31L1493.4 853.30L1494.4 853.28L1495.4 853.27L1496.4 853.24L1497.4 853.21L1498.4 853.16L1499.4 853.06L1500.4 852.92L1501.4 852.73L1502.4 852.52L1503.4 852.27L1504.4 852.01L1505.4 851.73L1506.4 851.44L1507.4 851.10L1508.4 850.71L1509.4 850.26L1510.4 849.77L1511.4 849.25L1512.4 848.71L1513.4 848.11L1514.4 847.43L1515.4 846.69L1516.4 845.94L1517.4 845.25L1518.4 844.67L1519.4 844.16L1520.4 843.71L1521.4 843.37L1522.4 843.21L1523.4 843.34L1524.4 843.75L1525.4 844.38L1526.4 845.08L1527.4 845.79L1528.4 846.52L1529.4 847.29L1530.4 848.05L1531.4 848.74L1532.4 849.36L1533.4 849.92L1534.4 850.45L1535.4 850.90L1536.4 851.22L1537.4 851.33L1538.4 851.23L1539.4 850.96L1540.4 850.58L1541.4 850.16L1542.4 849.72L1543.4 849.28L1544.4 848.81L1545.4 848.33L1546.4 847.89L1547.4 847.53L1548.4 847.25L1549.4 847.01L1550.4 846.79L1551.4 846.60L1552.4 846.44L1553.4 846.33L1554.4 846.27L1555.4 846.24L1556.4 846.23L1557.4 846.22L1558.4 846.21L1559.4 846.20L1560.4 846.20L1561.4 846.19L1562.4 846.18L1563.4 846.17L1564.4 846.18L1565.4 846.19L1566.4 846.21L1567.4 846.24L1568.4 846.28L1569.4 846.35L1570.4 846.44L1571.4 846.55L1572.4 846.67L1573.4 846.80L1574.4 846.94L1575.4 847.08L1576.4 847.23L1577.4 847.37L1578.4 847.51L1579.4 847.64L1580.4 847.78L1581.4 847.93L1582.4 848.08L1583.4 848.23L1584.4 848.40L1585.4 848.56L1586.4 848.73L1587.4 848.90L1588.4 849.07L1589.4 849.24L1590.4 849.40L1591.4 849.56L1592.4 849.72L1593.4 849.88L1594.4 850.02L1595.4 850.16L1596.4 850.30L1597.4 850.43L1598.4 850.56L1599.4 850.69L1600.4 850.83L1601.4 850.96L1602.4 851.09L1603.4 851.22L1604.4 851.34L1605.4 851.46L1606.4 851.58L1607.4 851.69L1608.4 851.79L1609.4 851.89L1610.4 851.98L1611.4 852.06L1612.4 852.12L1613.4 852.18L1614.4 852.24L1615.4 852.28L1616.4 852.30L1617.4 852.28L1618.4 852.25L1619.4 852.22L1620.4 852.19L1621.4 852.15L1622.4 852.10L1623.4 852.06L1624.4 852.01L1625.4 851.95L1626.4 851.88L1627.4 851.79L1628.4 851.69L1629.4 851.58L1630.4 851.45L1631.4 851.32L1632.4 851.19L1633.4 851.06L1634.4 850.93L1635.4 850.81L1636.4 850.69L1637.4 850.59L1638.4 850.50L1639.4 850.43L1640.4 850.37L1641.4 850.32L1642.4 850.27L1643.4 850.23L1644.4 850.20L1645.4 850.16L1646.4 850.13L1647.4 850.11L1648.4 850.08L1649.4 850.06L1650.4 850.04L1651.4 850.02L1652.4 849.99L1653.4 849.97L1654.4 849.95L1655.4 849.93L1656.4 849.92L1657.4 849.91L1658.4 849.90L1659.4 849.89L1660.4 849.89L1661.4 849.88L1662.4 849.88L1663.4 849.89L1664.4 849.89L1665.4 849.90L1666.4 849.90" fill="none" stroke="#545454" stroke-width="8.44" stroke-linejoin="round" stroke-linecap="butt"/></g>
<g id="bands"><rect x="258.0" y="222.9" width="110.0" height="899.6" fill="rgb(50,180,177)" fill-opacity="0.55"/><rect x="937.6" y="236.9" width="59.2" height="884.2" fill="rgb(251,124,20)" fill-opacity="0.44"/><rect x="1114.5" y="171.5" width="32.5" height="944.3" fill="rgb(255,255,0)" fill-opacity="0.41"/><rect x="1163.2" y="235.7" width="31.2" height="879.3" fill="rgb(135,5,244)" fill-opacity="0.46"/><rect x="1273.6" y="188.5" width="21.8" height="926.2" fill="rgb(255,0,255)" fill-opacity="0.41"/><rect x="1329.8" y="189.5" width="22.7" height="921.3" fill="rgb(255,0,255)" fill-opacity="0.41"/><rect x="1442.9" y="328.8" width="28.4" height="787.6" fill="rgb(128,0,128)" fill-opacity="0.45"/></g>
<g id="arrows"><line x1="293.2" y1="449.5" x2="317.5" y2="391.0" stroke="#111" stroke-width="1.7"/><polygon points="327.1,367.9 323.3,395.6 310.1,390.1" fill="#000"/><line x1="303.2" y1="445.8" x2="435.6" y2="324.5" stroke="#111" stroke-width="1.7"/><polygon points="454.0,307.6 438.9,331.1 429.3,320.6" fill="#000"/><line x1="346.6" y1="454.6" x2="441.4" y2="391.7" stroke="#111" stroke-width="1.7"/><polygon points="462.2,377.9 443.7,398.8 435.7,386.9" fill="#000"/></g>
<g id="ticklabels"><text id="t3000" transform="translate(198.12,1230.98) scale(1,1.0254)" font-size="64.48">3000</text><text id="t2500" transform="translate(479.76,1230.98) scale(1,1.0414)" font-size="63.49">2500</text><text id="t2000" transform="translate(759.42,1230.98) scale(1,1.0254)" font-size="64.48">2000</text><text id="t1500" transform="translate(1041.12,1231.00) scale(1,1.0266)" font-size="63.46">1500</text><text id="t1000" transform="translate(1321.57,1231.00) scale(1,1.0156)" font-size="64.15">1000</text><text id="t500" transform="translate(1618.45,1230.98) scale(1,1.0386)" font-size="63.66">500</text></g>
<g id="labels"><text id="l_ch1" transform="translate(253.21,219.13) scale(1,1.0556)" font-size="63.73">C-H</text><text id="l_co" transform="translate(906.75,240.53) scale(1,1.0018)" font-size="67.00">C</text><text id="l_coe" transform="translate(949.97,237.54) scale(1,0.7202)" font-size="74.57">=</text><text id="l_coo" transform="translate(988.08,239.88) scale(1,0.9969)" font-size="66.32">O</text><text id="l_ch2" transform="translate(1079.18,163.57) scale(1,1.0862)" font-size="58.31">C-H</text><text id="l_ch3" transform="translate(1124.16,234.46) scale(1,1.0886)" font-size="58.60">-CH</text><text id="l_ch3s" transform="translate(1230.94,249.27) scale(1,1.0582)" font-size="39.07">3</text><text id="l_coc" transform="translate(1231.86,190.47) scale(1,1.0470)" font-size="58.73">C-O-C</text><text id="l_cc" transform="translate(1406.03,320.27) scale(1,1.0689)" font-size="59.39">C-C</text><text id="l_2950" transform="translate(216.07,360.60) scale(1,1.0321)" font-size="58.28">2950</text><text id="l_2925" transform="translate(409.28,304.10) scale(1,1.0385)" font-size="57.92">2925</text><text id="l_2850" transform="translate(466.27,391.70) scale(1,1.0330)" font-size="58.23">2850</text><text id="l_ns" transform="translate(609.83,444.96) scale(1,1.0623)" font-size="58.31">NS<tspan font-weight="normal" font-size="117%" dx="-0.041em" dy="0.056em">−</tspan><tspan dx="-0.048em" dy="-0.0655em">CSF</tspan></text><text id="l_s" transform="translate(629.74,576.57) scale(1,1.0360)" font-size="59.21">S<tspan font-weight="normal" font-size="117%" dx="-0.041em" dy="0.056em">−</tspan><tspan dx="-0.048em" dy="-0.0655em">CSF</tspan></text><text id="l_n" transform="translate(625.33,713.15) scale(1,1.0663)" font-size="58.65">N<tspan font-weight="normal" font-size="117%" dx="-0.041em" dy="0.056em">−</tspan><tspan dx="-0.048em" dy="-0.0655em">CSF</tspan></text><text id="l_sa" transform="translate(608.77,843.59) scale(1,1.0315)" font-size="58.60">SA<tspan font-weight="normal" font-size="117%" dx="-0.041em" dy="0.056em">−</tspan><tspan dx="-0.048em" dy="-0.0655em">CSF</tspan></text><text id="l_un" transform="translate(622.14,976.27) scale(1,1.0621)" font-size="57.75">UN<tspan font-weight="normal" font-size="117%" dx="-0.041em" dy="0.056em">−</tspan><tspan dx="-0.048em" dy="-0.0655em">CSF</tspan></text><text id="l_pla" transform="translate(653.96,1080.00) scale(1,1.0719)" font-size="57.11">PLA</text></g>
<text id="x_main" transform="translate(498.05,1316.67) scale(1,0.9811)" font-size="94.80">Wavenumber (cm</text><text id="x_sup1" transform="translate(1257.93,1278.40) scale(1,1.1705)" font-size="58.38">1</text><text id="x_min" transform="translate(1218.75,1280.80) scale(1,0.9592)" font-size="72.98"><tspan font-weight="normal">−</tspan></text><text id="x_par" transform="translate(1286.72,1316.67) scale(1,0.8514)" font-size="109.23">)</text><text id="ytitle" transform="translate(93.40,942.74) rotate(-90) scale(1,0.9787)" font-size="93.89">Absorbance (a.u.)</text>
</svg></body></html>
